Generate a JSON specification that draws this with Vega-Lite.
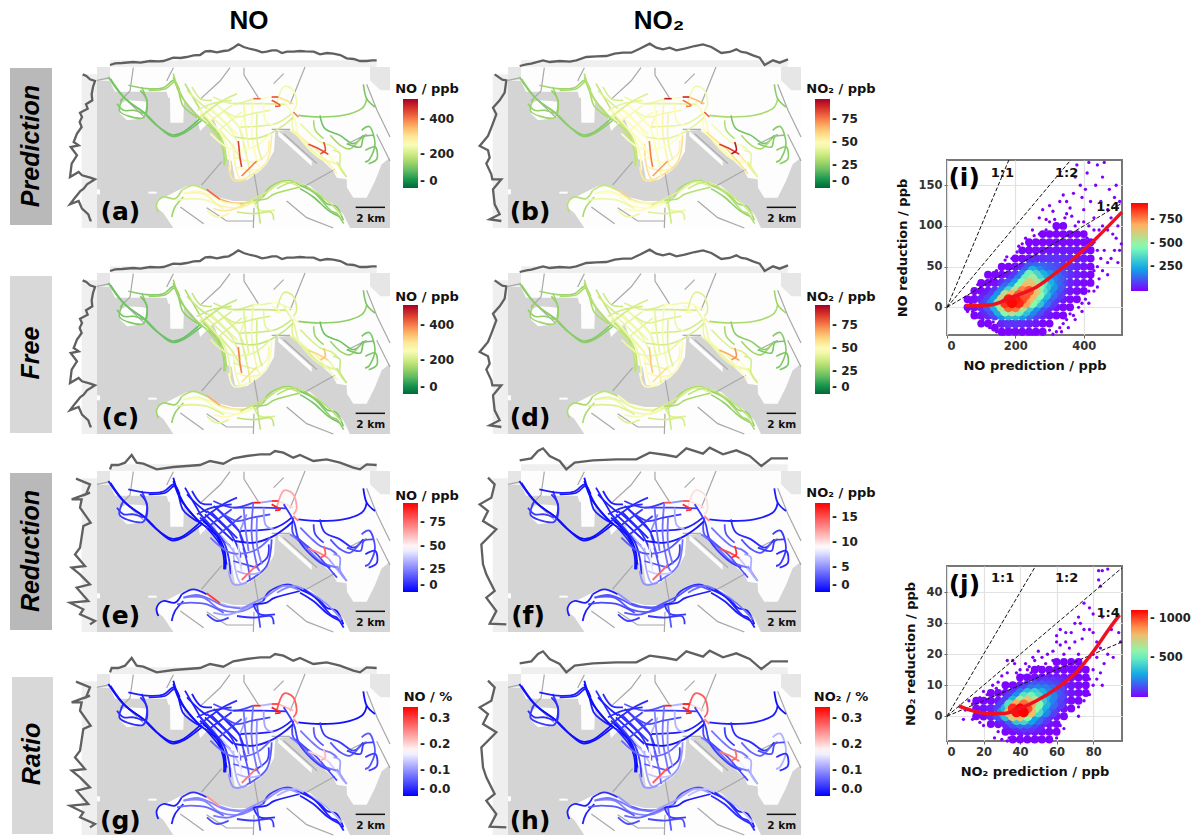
{"$schema":"https://vega.github.io/schema/vega-lite/v6.json","padding":{"left":10,"top":8,"right":0,"bottom":0},"background":"white",
"config":{"view":{"stroke":null},"font":"DejaVu Sans","legend":{"orient":"none","labelFont":"DejaVu Sans","labelFontSize":12,"labelFontWeight":"bold","labelColor":"#222","gradientLength":89,"gradientThickness":15,"gradientStrokeWidth":0,"labelOffset":2,"padding":0},"axis":{"labelFont":"DejaVu Sans","titleFont":"DejaVu Sans","labelFontWeight":"bold","titleFontWeight":"bold","labelFontSize":11.5,"titleFontSize":13,"titlePadding":8,"labelColor":"#333","titleColor":"#111","gridColor":"#e2e2e2","gridWidth":1.2,"domain":false,"tickColor":"#666","tickSize":3}},
"datasets":{
"frame":[{"x":0,"x2":879,"y":0,"y2":483}],
"bands":[{"x":39,"x2":839,"y":-20,"y2":0},{"x":-46,"x2":0,"y":22,"y2":483}],
"land":[{"k":"n","x":0,"y":0,"y2":40},{"k":"n","x":39,"y":0,"y2":42},{"k":"n","x":54,"y":0,"y2":74},{"k":"n","x":209,"y":0,"y2":74},{"k":"n","x":214,"y":0,"y2":92},{"k":"n","x":219,"y":0,"y2":92},{"k":"n","x":220,"y":0,"y2":167},{"k":"n","x":259,"y":0,"y2":167},{"k":"n","x":261,"y":0,"y2":102},{"k":"n","x":284,"y":0,"y2":122},{"k":"n","x":299,"y":0,"y2":147},{"k":"n","x":309,"y":0,"y2":192},{"k":"n","x":324,"y":0,"y2":177},{"k":"n","x":349,"y":0,"y2":152},{"k":"n","x":364,"y":0,"y2":192},{"k":"n","x":377,"y":0,"y2":242},{"k":"n","x":381,"y":0,"y2":272},{"k":"n","x":404,"y":0,"y2":282},{"k":"n","x":414,"y":0,"y2":337},{"k":"n","x":449,"y":0,"y2":340},{"k":"n","x":489,"y":0,"y2":312},{"k":"n","x":509,"y":0,"y2":292},{"k":"n","x":531,"y":0,"y2":252},{"k":"n","x":535,"y":0,"y2":192},{"k":"n","x":580,"y":0,"y2":188},{"k":"n","x":709,"y":0,"y2":312},{"k":"n","x":719,"y":0,"y2":332},{"k":"n","x":749,"y":0,"y2":337},{"k":"n","x":750,"y":0,"y2":362},{"k":"n","x":769,"y":0,"y2":392},{"k":"n","x":809,"y":0,"y2":392},{"k":"n","x":834,"y":0,"y2":342},{"k":"n","x":854,"y":0,"y2":292},{"k":"n","x":879,"y":0,"y2":272},
{"k":"ty","x":69,"y":110,"y2":140},{"k":"ty","x":90,"y":100,"y2":160},{"k":"ty","x":130,"y":102,"y2":155},{"k":"ty","x":149,"y":105,"y2":150},
{"k":"rw","x":544,"y":192,"y2":207},{"k":"rw","x":644,"y":282,"y2":297},
{"k":"hk","x":179,"y":402,"y2":422},{"k":"hk","x":199,"y":392,"y2":438},{"k":"hk","x":229,"y":377,"y2":483},{"k":"hk","x":269,"y":357,"y2":483},{"k":"hk","x":309,"y":357,"y2":483},{"k":"hk","x":349,"y":387,"y2":483},{"k":"hk","x":409,"y":402,"y2":483},{"k":"hk","x":449,"y":402,"y2":483},{"k":"hk","x":479,"y":412,"y2":483},{"k":"hk","x":509,"y":382,"y2":483},{"k":"hk","x":539,"y":347,"y2":483},{"k":"hk","x":569,"y":337,"y2":483},{"k":"hk","x":609,"y":347,"y2":483},{"k":"hk","x":639,"y":357,"y2":483},{"k":"hk","x":669,"y":382,"y2":483},{"k":"hk","x":709,"y":412,"y2":483},{"k":"hk","x":739,"y":442,"y2":483},{"k":"hk","x":759,"y":483,"y2":483},
{"k":"i1","x":154,"y":374,"y2":380},{"k":"i1","x":179,"y":374,"y2":380},{"k":"i2","x":0,"y":367,"y2":382},{"k":"i2","x":9,"y":367,"y2":382}],
"pale":[{"k":"a","x":0,"y":0,"y2":40},{"k":"a","x":39,"y":0,"y2":40},{"k":"b","x":819,"y":0,"y2":40},{"k":"b","x":850,"y":0,"y2":70},{"k":"b","x":879,"y":0,"y2":70}],
"thin":[{"k":"d1","c":"d","i":0,"x":79,"y":90},{"k":"d1","c":"d","i":1,"x":144,"y":152},{"k":"d2","c":"d","i":0,"x":0,"y":40},{"k":"d2","c":"d","i":1,"x":39,"y":32},{"k":"d3","c":"m","i":0,"x":399,"y":2},{"k":"d3","c":"m","i":1,"x":369,"y":42},{"k":"d3","c":"m","i":2,"x":309,"y":97},{"k":"d4","c":"d","i":0,"x":441,"y":2},{"k":"d4","c":"d","i":1,"x":441,"y":24},{"k":"d4","c":"d","i":2,"x":484,"y":92},{"k":"d5","c":"d","i":0,"x":624,"y":0},{"k":"d5","c":"d","i":1,"x":579,"y":112},{"k":"d6","c":"d","i":0,"x":524,"y":187},{"k":"d6","c":"d","i":1,"x":579,"y":187},{"k":"d7","c":"d","i":0,"x":374,"y":284},{"k":"d7","c":"d","i":1,"x":314,"y":354},{"k":"d8","c":"d","i":0,"x":471,"y":317},{"k":"d8","c":"d","i":1,"x":484,"y":392},{"k":"d9","c":"d","i":0,"x":714,"y":307},{"k":"d9","c":"d","i":1,"x":624,"y":357},{"k":"d10","c":"d","i":0,"x":471,"y":422},{"k":"d10","c":"d","i":1,"x":469,"y":483},{"k":"d11","c":"d","i":0,"x":749,"y":232},{"k":"d11","c":"d","i":1,"x":809,"y":202},{"k":"l1","c":"l","i":0,"x":839,"y":202},{"k":"l1","c":"l","i":1,"x":879,"y":282},{"k":"l2","c":"l","i":0,"x":109,"y":2},{"k":"l2","c":"l","i":1,"x":99,"y":72},{"k":"l2","c":"l","i":2,"x":69,"y":102},{"k":"l3","c":"l","i":0,"x":329,"y":422},{"k":"l3","c":"l","i":1,"x":389,"y":462},{"k":"l3","c":"l","i":2,"x":469,"y":462},{"k":"l4","c":"l","i":0,"x":569,"y":402},{"k":"l4","c":"l","i":1,"x":629,"y":452},{"k":"l4","c":"l","i":2,"x":709,"y":483},{"k":"l5","c":"l","i":0,"x":229,"y":2},{"k":"l5","c":"l","i":1,"x":209,"y":42},{"k":"l6","c":"l","i":0,"x":809,"y":52},{"k":"l6","c":"l","i":1,"x":840,"y":130},{"k":"l6","c":"l","i":2,"x":879,"y":210},{"k":"l7","c":"l","i":0,"x":530,"y":50},{"k":"l7","c":"l","i":1,"x":560,"y":20},{"k":"l8","c":"l","i":0,"x":250,"y":420},{"k":"l8","c":"l","i":1,"x":320,"y":470},{"k":"l9","c":"l","i":0,"x":560,"y":200},{"k":"l9","c":"l","i":1,"x":660,"y":290}],
"prof":[{"p":"ac","k":"t","i":0,"x":39,"y":-6},{"p":"ac","k":"t","i":1,"x":54,"y":-11},{"p":"ac","k":"t","i":2,"x":75,"y":-12},{"p":"ac","k":"t","i":3,"x":109,"y":-15},{"p":"ac","k":"t","i":4,"x":130,"y":-13},{"p":"ac","k":"t","i":5,"x":159,"y":-18},{"p":"ac","k":"t","i":6,"x":185,"y":-17},{"p":"ac","k":"t","i":7,"x":199,"y":-18},{"p":"ac","k":"t","i":8,"x":229,"y":-28},{"p":"ac","k":"t","i":9,"x":250,"y":-27},{"p":"ac","k":"t","i":10,"x":269,"y":-30},{"p":"ac","k":"t","i":11,"x":290,"y":-35},{"p":"ac","k":"t","i":12,"x":309,"y":-36},{"p":"ac","k":"t","i":13,"x":325,"y":-47},{"p":"ac","k":"t","i":14,"x":340,"y":-48},{"p":"ac","k":"t","i":15,"x":360,"y":-44},{"p":"ac","k":"t","i":16,"x":379,"y":-48},{"p":"ac","k":"t","i":17,"x":395,"y":-50},{"p":"ac","k":"t","i":18,"x":409,"y":-58},{"p":"ac","k":"t","i":19,"x":424,"y":-68},{"p":"ac","k":"t","i":20,"x":440,"y":-60},{"p":"ac","k":"t","i":21,"x":460,"y":-54},{"p":"ac","k":"t","i":22,"x":479,"y":-50},{"p":"ac","k":"t","i":23,"x":495,"y":-44},{"p":"ac","k":"t","i":24,"x":509,"y":-46},{"p":"ac","k":"t","i":25,"x":525,"y":-50},{"p":"ac","k":"t","i":26,"x":539,"y":-50},{"p":"ac","k":"t","i":27,"x":555,"y":-42},{"p":"ac","k":"t","i":28,"x":570,"y":-46},{"p":"ac","k":"t","i":29,"x":590,"y":-46},{"p":"ac","k":"t","i":30,"x":609,"y":-48},{"p":"ac","k":"t","i":31,"x":625,"y":-47},{"p":"ac","k":"t","i":32,"x":650,"y":-46},{"p":"ac","k":"t","i":33,"x":669,"y":-38},{"p":"ac","k":"t","i":34,"x":690,"y":-42},{"p":"ac","k":"t","i":35,"x":709,"y":-40},{"p":"ac","k":"t","i":36,"x":730,"y":-36},{"p":"ac","k":"t","i":37,"x":749,"y":-26},{"p":"ac","k":"t","i":38,"x":770,"y":-24},{"p":"ac","k":"t","i":39,"x":789,"y":-18},{"p":"ac","k":"t","i":40,"x":809,"y":-18},{"p":"ac","k":"t","i":41,"x":825,"y":-20},{"p":"ac","k":"t","i":42,"x":839,"y":-20},
{"p":"ac","k":"l","i":0,"x":-43,"y":22},{"p":"ac","k":"l","i":1,"x":-32,"y":27},{"p":"ac","k":"l","i":2,"x":-21,"y":37},{"p":"ac","k":"l","i":3,"x":-6,"y":42},{"p":"ac","k":"l","i":4,"x":-12,"y":60},{"p":"ac","k":"l","i":5,"x":-16,"y":82},{"p":"ac","k":"l","i":6,"x":-14,"y":100},{"p":"ac","k":"l","i":7,"x":-33,"y":112},{"p":"ac","k":"l","i":8,"x":-28,"y":125},{"p":"ac","k":"l","i":9,"x":-51,"y":137},{"p":"ac","k":"l","i":10,"x":-45,"y":150},{"p":"ac","k":"l","i":11,"x":-52,"y":165},{"p":"ac","k":"l","i":12,"x":-46,"y":180},{"p":"ac","k":"l","i":13,"x":-60,"y":200},{"p":"ac","k":"l","i":14,"x":-70,"y":225},{"p":"ac","k":"l","i":15,"x":-55,"y":235},{"p":"ac","k":"l","i":16,"x":-79,"y":240},{"p":"ac","k":"l","i":17,"x":-60,"y":265},{"p":"ac","k":"l","i":18,"x":-76,"y":290},{"p":"ac","k":"l","i":19,"x":-81,"y":330},{"p":"ac","k":"l","i":20,"x":-55,"y":315},{"p":"ac","k":"l","i":21,"x":-45,"y":325},{"p":"ac","k":"l","i":22,"x":-20,"y":332},{"p":"ac","k":"l","i":23,"x":-6,"y":337},{"p":"ac","k":"l","i":24,"x":-30,"y":352},{"p":"ac","k":"l","i":25,"x":-40,"y":365},{"p":"ac","k":"l","i":26,"x":-50,"y":372},{"p":"ac","k":"l","i":27,"x":-66,"y":392},{"p":"ac","k":"l","i":28,"x":-81,"y":412},{"p":"ac","k":"l","i":29,"x":-55,"y":402},{"p":"ac","k":"l","i":30,"x":-45,"y":425},{"p":"ac","k":"l","i":31,"x":-26,"y":442},{"p":"ac","k":"l","i":32,"x":-20,"y":460},{"p":"ac","k":"l","i":33,"x":-16,"y":460},
{"p":"bd","k":"t","i":0,"x":35,"y":-3},{"p":"bd","k":"t","i":1,"x":55,"y":-8},{"p":"bd","k":"t","i":2,"x":70,"y":-10},{"p":"bd","k":"t","i":3,"x":105,"y":-20},{"p":"bd","k":"t","i":4,"x":125,"y":-15},{"p":"bd","k":"t","i":5,"x":155,"y":-18},{"p":"bd","k":"t","i":6,"x":185,"y":-16},{"p":"bd","k":"t","i":7,"x":205,"y":-20},{"p":"bd","k":"t","i":8,"x":235,"y":-30},{"p":"bd","k":"t","i":9,"x":265,"y":-32},{"p":"bd","k":"t","i":10,"x":295,"y":-33},{"p":"bd","k":"t","i":11,"x":320,"y":-40},{"p":"bd","k":"t","i":12,"x":345,"y":-43},{"p":"bd","k":"t","i":13,"x":370,"y":-43},{"p":"bd","k":"t","i":14,"x":395,"y":-55},{"p":"bd","k":"t","i":15,"x":425,"y":-70},{"p":"bd","k":"t","i":16,"x":445,"y":-58},{"p":"bd","k":"t","i":17,"x":465,"y":-53},{"p":"bd","k":"t","i":18,"x":485,"y":-58},{"p":"bd","k":"t","i":19,"x":505,"y":-50},{"p":"bd","k":"t","i":20,"x":530,"y":-55},{"p":"bd","k":"t","i":21,"x":560,"y":-63},{"p":"bd","k":"t","i":22,"x":585,"y":-68},{"p":"bd","k":"t","i":23,"x":610,"y":-60},{"p":"bd","k":"t","i":24,"x":640,"y":-42},{"p":"bd","k":"t","i":25,"x":665,"y":-45},{"p":"bd","k":"t","i":26,"x":685,"y":-53},{"p":"bd","k":"t","i":27,"x":700,"y":-45},{"p":"bd","k":"t","i":28,"x":715,"y":-43},{"p":"bd","k":"t","i":29,"x":735,"y":-35},{"p":"bd","k":"t","i":30,"x":755,"y":-28},{"p":"bd","k":"t","i":31,"x":770,"y":-6},{"p":"bd","k":"t","i":32,"x":795,"y":-20},{"p":"bd","k":"t","i":33,"x":815,"y":-13},{"p":"bd","k":"t","i":34,"x":840,"y":-23},
{"p":"bd","k":"l","i":0,"x":-40,"y":22},{"p":"bd","k":"l","i":1,"x":-17,"y":38},{"p":"bd","k":"l","i":2,"x":-5,"y":40},{"p":"bd","k":"l","i":3,"x":-10,"y":77},{"p":"bd","k":"l","i":4,"x":-25,"y":100},{"p":"bd","k":"l","i":5,"x":-45,"y":122},{"p":"bd","k":"l","i":6,"x":-35,"y":142},{"p":"bd","k":"l","i":7,"x":-50,"y":182},{"p":"bd","k":"l","i":8,"x":-60,"y":207},{"p":"bd","k":"l","i":9,"x":-85,"y":237},{"p":"bd","k":"l","i":10,"x":-60,"y":250},{"p":"bd","k":"l","i":11,"x":-55,"y":272},{"p":"bd","k":"l","i":12,"x":-65,"y":290},{"p":"bd","k":"l","i":13,"x":-50,"y":322},{"p":"bd","k":"l","i":14,"x":-47,"y":337},{"p":"bd","k":"l","i":15,"x":-20,"y":337},{"p":"bd","k":"l","i":16,"x":-45,"y":367},{"p":"bd","k":"l","i":17,"x":-40,"y":412},{"p":"bd","k":"l","i":18,"x":-25,"y":442},{"p":"bd","k":"l","i":19,"x":-55,"y":457},{"p":"bd","k":"l","i":20,"x":-20,"y":462},
{"p":"eg","k":"t","i":0,"x":39,"y":-5},{"p":"eg","k":"t","i":1,"x":44,"y":-18},{"p":"eg","k":"t","i":2,"x":64,"y":-18},{"p":"eg","k":"t","i":3,"x":84,"y":-25},{"p":"eg","k":"t","i":4,"x":104,"y":-48},{"p":"eg","k":"t","i":5,"x":119,"y":-25},{"p":"eg","k":"t","i":6,"x":139,"y":-22},{"p":"eg","k":"t","i":7,"x":179,"y":-5},{"p":"eg","k":"t","i":8,"x":229,"y":-12},{"p":"eg","k":"t","i":9,"x":269,"y":-15},{"p":"eg","k":"t","i":10,"x":309,"y":-18},{"p":"eg","k":"t","i":11,"x":339,"y":-30},{"p":"eg","k":"t","i":12,"x":379,"y":-22},{"p":"eg","k":"t","i":13,"x":409,"y":-38},{"p":"eg","k":"t","i":14,"x":449,"y":-45},{"p":"eg","k":"t","i":15,"x":489,"y":-50},{"p":"eg","k":"t","i":16,"x":519,"y":-50},{"p":"eg","k":"t","i":17,"x":534,"y":-60},{"p":"eg","k":"t","i":18,"x":559,"y":-55},{"p":"eg","k":"t","i":19,"x":589,"y":-40},{"p":"eg","k":"t","i":20,"x":609,"y":-48},{"p":"eg","k":"t","i":21,"x":649,"y":-30},{"p":"eg","k":"t","i":22,"x":689,"y":-35},{"p":"eg","k":"t","i":23,"x":729,"y":-25},{"p":"eg","k":"t","i":24,"x":769,"y":-10},{"p":"eg","k":"t","i":25,"x":789,"y":-5},{"p":"eg","k":"t","i":26,"x":809,"y":-20},{"p":"eg","k":"t","i":27,"x":839,"y":-18},
{"p":"eg","k":"l","i":0,"x":-63,"y":23},{"p":"eg","k":"l","i":1,"x":-21,"y":40},{"p":"eg","k":"l","i":2,"x":-33,"y":70},{"p":"eg","k":"l","i":3,"x":-21,"y":65},{"p":"eg","k":"l","i":4,"x":-76,"y":85},{"p":"eg","k":"l","i":5,"x":-46,"y":85},{"p":"eg","k":"l","i":6,"x":-51,"y":110},{"p":"eg","k":"l","i":7,"x":-19,"y":155},{"p":"eg","k":"l","i":8,"x":-41,"y":165},{"p":"eg","k":"l","i":9,"x":-51,"y":230},{"p":"eg","k":"l","i":10,"x":-66,"y":250},{"p":"eg","k":"l","i":11,"x":-36,"y":285},{"p":"eg","k":"l","i":12,"x":-76,"y":290},{"p":"eg","k":"l","i":13,"x":-51,"y":310},{"p":"eg","k":"l","i":14,"x":-21,"y":340},{"p":"eg","k":"l","i":15,"x":-61,"y":350},{"p":"eg","k":"l","i":16,"x":-26,"y":390},{"p":"eg","k":"l","i":17,"x":-81,"y":395},{"p":"eg","k":"l","i":18,"x":-41,"y":415},{"p":"eg","k":"l","i":19,"x":-51,"y":430},{"p":"eg","k":"l","i":20,"x":-6,"y":450},{"p":"eg","k":"l","i":21,"x":-21,"y":460},
{"p":"fh","k":"t","i":0,"x":35,"y":-32},{"p":"fh","k":"t","i":1,"x":70,"y":-38},{"p":"fh","k":"t","i":2,"x":90,"y":-60},{"p":"fh","k":"t","i":3,"x":105,"y":-68},{"p":"fh","k":"t","i":4,"x":125,"y":-45},{"p":"fh","k":"t","i":5,"x":155,"y":-30},{"p":"fh","k":"t","i":6,"x":175,"y":-5},{"p":"fh","k":"t","i":7,"x":200,"y":-25},{"p":"fh","k":"t","i":8,"x":255,"y":-32},{"p":"fh","k":"t","i":9,"x":325,"y":-35},{"p":"fh","k":"t","i":10,"x":385,"y":-35},{"p":"fh","k":"t","i":11,"x":425,"y":-55},{"p":"fh","k":"t","i":12,"x":475,"y":-48},{"p":"fh","k":"t","i":13,"x":505,"y":-42},{"p":"fh","k":"t","i":14,"x":535,"y":-68},{"p":"fh","k":"t","i":15,"x":585,"y":-52},{"p":"fh","k":"t","i":16,"x":605,"y":-70},{"p":"fh","k":"t","i":17,"x":645,"y":-50},{"p":"fh","k":"t","i":18,"x":685,"y":-62},{"p":"fh","k":"t","i":19,"x":725,"y":-45},{"p":"fh","k":"t","i":20,"x":760,"y":-15},{"p":"fh","k":"t","i":21,"x":790,"y":-38},{"p":"fh","k":"t","i":22,"x":840,"y":-38},
{"p":"fh","k":"l","i":0,"x":-60,"y":20},{"p":"fh","k":"l","i":1,"x":-40,"y":40},{"p":"fh","k":"l","i":2,"x":-50,"y":80},{"p":"fh","k":"l","i":3,"x":-85,"y":100},{"p":"fh","k":"l","i":4,"x":-60,"y":120},{"p":"fh","k":"l","i":5,"x":-75,"y":150},{"p":"fh","k":"l","i":6,"x":-35,"y":175},{"p":"fh","k":"l","i":7,"x":-80,"y":220},{"p":"fh","k":"l","i":8,"x":-75,"y":280},{"p":"fh","k":"l","i":9,"x":-65,"y":310},{"p":"fh","k":"l","i":10,"x":-40,"y":360},{"p":"fh","k":"l","i":11,"x":-65,"y":380},{"p":"fh","k":"l","i":12,"x":-35,"y":420},{"p":"fh","k":"l","i":13,"x":-55,"y":458},{"p":"fh","k":"l","i":14,"x":-5,"y":460}],
"seg":[
{"s":1,"a":125,"b":26,"c":115,"d":26,"e":6,"f":1,"g":0.01,"h":0.02},{"s":2,"a":105,"b":24,"c":105,"d":24,"e":3,"f":0.5,"g":0.01,"h":0.01},{"s":3,"a":130,"b":28,"c":125,"d":28,"e":12,"f":2,"g":0.03,"h":0.04},{"s":4,"a":140,"b":28,"c":130,"d":28,"e":6,"f":1,"g":0.02,"h":0.02},{"s":5,"a":145,"b":30,"c":135,"d":30,"e":5,"f":1,"g":0.02,"h":0.02},{"s":6,"a":150,"b":30,"c":140,"d":30,"e":3,"f":0.5,"g":0.01,"h":0.01},{"s":7,"a":170,"b":34,"c":160,"d":34,"e":5,"f":1,"g":0.02,"h":0.03},{"s":8,"a":155,"b":32,"c":145,"d":32,"e":2,"f":0.5,"g":0.01,"h":0.01},{"s":9,"a":170,"b":34,"c":160,"d":36,"e":4,"f":1,"g":0.01,"h":0.02},
{"s":10,"a":240,"b":48,"c":215,"d":44,"e":6,"f":1,"g":0.02,"h":0.02},{"s":11,"a":250,"b":50,"c":225,"d":45,"e":7,"f":1,"g":0.02,"h":0.03},{"s":12,"a":245,"b":50,"c":220,"d":45,"e":7,"f":1,"g":0.02,"h":0.03},{"s":13,"a":240,"b":48,"c":215,"d":44,"e":6,"f":1,"g":0.02,"h":0.02},{"s":14,"a":230,"b":46,"c":205,"d":42,"e":12,"f":2,"g":0.03,"h":0.04},{"s":15,"a":235,"b":46,"c":210,"d":42,"e":14,"f":2,"g":0.05,"h":0.05},
{"s":16,"a":220,"b":44,"c":200,"d":40,"e":12,"f":2,"g":0.05,"h":0.06},{"s":17,"a":420,"b":92,"c":240,"d":50,"e":92,"f":15,"g":0.32,"h":0.32},{"s":18,"a":260,"b":50,"c":225,"d":45,"e":30,"f":5,"g":0.12,"h":0.12},{"s":19,"a":440,"b":90,"c":260,"d":52,"e":88,"f":15,"g":0.3,"h":0.33},{"s":20,"a":310,"b":65,"c":240,"d":50,"e":55,"f":10,"g":0.22,"h":0.2},{"s":21,"a":240,"b":45,"c":205,"d":40,"e":65,"f":10,"g":0.28,"h":0.28},{"s":22,"a":215,"b":42,"c":190,"d":38,"e":10,"f":2,"g":0.03,"h":0.04},{"s":23,"a":430,"b":75,"c":250,"d":50,"e":90,"f":16,"g":0.32,"h":0.32},{"s":24,"a":210,"b":42,"c":190,"d":38,"e":5,"f":1,"g":0.02,"h":0.02},{"s":25,"a":400,"b":80,"c":270,"d":55,"e":72,"f":13,"g":0.24,"h":0.25},
{"s":26,"a":140,"b":30,"c":135,"d":30,"e":5,"f":1,"g":0.01,"h":0.02},{"s":27,"a":120,"b":25,"c":120,"d":28,"e":3,"f":1,"g":0.01,"h":0.01},{"s":28,"a":240,"b":48,"c":220,"d":44,"e":14,"f":3,"g":0.05,"h":0.05},{"s":29,"a":440,"b":85,"c":320,"d":68,"e":70,"f":15,"g":0.2,"h":0.26},{"s":30,"a":260,"b":55,"c":230,"d":48,"e":32,"f":7,"g":0.14,"h":0.16},{"s":31,"a":240,"b":48,"c":215,"d":44,"e":22,"f":4,"g":0.08,"h":0.08},{"s":32,"a":200,"b":40,"c":190,"d":40,"e":26,"f":5,"g":0.1,"h":0.1},{"s":33,"a":110,"b":22,"c":110,"d":25,"e":8,"f":1.5,"g":0.04,"h":0.03},{"s":34,"a":120,"b":24,"c":120,"d":24,"e":14,"f":2,"g":0.06,"h":0.12},{"s":35,"a":205,"b":42,"c":190,"d":38,"e":28,"f":6,"g":0.11,"h":0.12},
{"s":36,"a":280,"b":58,"c":240,"d":50,"e":35,"f":6,"g":0.12,"h":0.11},{"s":37,"a":450,"b":75,"c":400,"d":62,"e":40,"f":8,"g":0.16,"h":0.18},{"s":38,"a":290,"b":58,"c":250,"d":50,"e":15,"f":4,"g":0.06,"h":0.1},{"s":39,"a":265,"b":52,"c":235,"d":46,"e":20,"f":4,"g":0.08,"h":0.08},{"s":40,"a":260,"b":52,"c":235,"d":48,"e":28,"f":5,"g":0.11,"h":0.12},{"s":41,"a":400,"b":70,"c":310,"d":58,"e":75,"f":14,"g":0.26,"h":0.28},{"s":42,"a":240,"b":48,"c":220,"d":44,"e":14,"f":3,"g":0.06,"h":0.06},{"s":43,"a":230,"b":46,"c":210,"d":42,"e":16,"f":3,"g":0.06,"h":0.07},{"s":44,"a":230,"b":48,"c":210,"d":44,"e":34,"f":6,"g":0.13,"h":0.13},{"s":45,"a":230,"b":48,"c":210,"d":44,"e":12,"f":3,"g":0.05,"h":0.06},
{"s":46,"a":165,"b":32,"c":150,"d":30,"e":4,"f":1,"g":0.02,"h":0.02},{"s":47,"a":180,"b":35,"c":165,"d":33,"e":6,"f":1,"g":0.03,"h":0.03},{"s":48,"a":420,"b":60,"c":360,"d":48,"e":85,"f":5,"g":0.24,"h":0.1},{"s":49,"a":360,"b":55,"c":320,"d":48,"e":35,"f":3,"g":0.1,"h":0.06},{"s":50,"a":190,"b":36,"c":170,"d":35,"e":18,"f":3,"g":0.07,"h":0.08},{"s":51,"a":150,"b":30,"c":145,"d":30,"e":8,"f":1.5,"g":0.04,"h":0.05},{"s":52,"a":120,"b":28,"c":115,"d":26,"e":4,"f":1,"g":0.02,"h":0.02},{"s":53,"a":145,"b":30,"c":140,"d":30,"e":6,"f":1,"g":0.02,"h":0.02},{"s":54,"a":280,"b":48,"c":250,"d":44,"e":22,"f":3,"g":0.09,"h":0.09},{"s":55,"a":300,"b":50,"c":270,"d":46,"e":30,"f":3,"g":0.08,"h":0.07},{"s":56,"a":220,"b":44,"c":205,"d":40,"e":10,"f":2,"g":0.03,"h":0.04},{"s":57,"a":115,"b":26,"c":115,"d":26,"e":5,"f":1,"g":0.02,"h":0.03},{"s":58,"a":160,"b":32,"c":150,"d":30,"e":5,"f":1,"g":0.02,"h":0.02},
{"s":59,"a":115,"b":25,"c":110,"d":25,"e":3,"f":0.5,"g":0.01,"h":0.01},{"s":60,"a":150,"b":30,"c":140,"d":30,"e":4,"f":0.8,"g":0.02,"h":0.02},{"s":61,"a":160,"b":32,"c":150,"d":32,"e":2,"f":0.5,"g":0.01,"h":0.01},{"s":62,"a":175,"b":35,"c":160,"d":34,"e":2,"f":0.5,"g":0.01,"h":0.01},{"s":63,"a":240,"b":48,"c":215,"d":44,"e":8,"f":1.5,"g":0.03,"h":0.03},{"s":64,"a":240,"b":48,"c":215,"d":44,"e":10,"f":1.5,"g":0.03,"h":0.04},{"s":65,"a":250,"b":50,"c":225,"d":45,"e":9,"f":1.5,"g":0.03,"h":0.04},{"s":66,"a":210,"b":42,"c":190,"d":38,"e":8,"f":1.5,"g":0.03,"h":0.03},{"s":67,"a":200,"b":40,"c":185,"d":38,"e":8,"f":1.5,"g":0.03,"h":0.03},{"s":68,"a":225,"b":45,"c":205,"d":40,"e":15,"f":2,"g":0.05,"h":0.05},{"s":69,"a":200,"b":42,"c":185,"d":38,"e":4,"f":0.8,"g":0.02,"h":0.01},{"s":70,"a":250,"b":48,"c":225,"d":44,"e":20,"f":3,"g":0.07,"h":0.07},{"s":71,"a":240,"b":48,"c":215,"d":42,"e":22,"f":4,"g":0.08,"h":0.09},{"s":72,"a":250,"b":50,"c":225,"d":44,"e":30,"f":6,"g":0.11,"h":0.12},{"s":73,"a":300,"b":55,"c":255,"d":48,"e":30,"f":5,"g":0.1,"h":0.1},{"s":74,"a":280,"b":52,"c":240,"d":46,"e":10,"f":2,"g":0.04,"h":0.04},{"s":75,"a":270,"b":52,"c":240,"d":46,"e":32,"f":7,"g":0.12,"h":0.13},
{"s":76,"a":250,"b":50,"c":225,"d":44,"e":10,"f":2,"g":0.04,"h":0.04},{"s":77,"a":280,"b":58,"c":240,"d":50,"e":14,"f":3,"g":0.05,"h":0.05},{"s":78,"a":230,"b":46,"c":205,"d":40,"e":20,"f":4,"g":0.08,"h":0.08},{"s":79,"a":160,"b":32,"c":150,"d":30,"e":12,"f":3,"g":0.06,"h":0.04},{"s":80,"a":150,"b":30,"c":145,"d":28,"e":16,"f":3,"g":0.06,"h":0.07},{"s":81,"a":115,"b":24,"c":115,"d":22,"e":14,"f":2,"g":0.04,"h":0.05},{"s":82,"a":120,"b":25,"c":120,"d":22,"e":8,"f":1.5,"g":0.04,"h":0.03},{"s":83,"a":270,"b":47,"c":240,"d":42,"e":22,"f":3,"g":0.09,"h":0.08},{"s":84,"a":240,"b":44,"c":215,"d":40,"e":18,"f":2.5,"g":0.07,"h":0.06},{"s":85,"a":200,"b":40,"c":185,"d":38,"e":26,"f":3,"g":0.1,"h":0.11},{"s":86,"a":180,"b":36,"c":175,"d":36,"e":14,"f":3,"g":0.05,"h":0.06},{"s":87,"a":190,"b":40,"c":180,"d":38,"e":10,"f":2,"g":0.04,"h":0.05},{"s":88,"a":180,"b":36,"c":170,"d":34,"e":26,"f":4,"g":0.12,"h":0.13},{"s":89,"a":240,"b":44,"c":220,"d":40,"e":12,"f":2,"g":0.05,"h":0.05},{"s":90,"a":140,"b":32,"c":135,"d":30,"e":6,"f":1,"g":0.02,"h":0.03},{"s":92,"a":125,"b":26,"c":120,"d":26,"e":10,"f":2,"g":0.03,"h":0.03},{"s":93,"a":120,"b":26,"c":115,"d":26,"e":8,"f":1.5,"g":0.03,"h":0.03},{"s":95,"a":210,"b":40,"c":190,"d":38,"e":5,"f":1,"g":0.02,"h":0.02},{"s":96,"a":200,"b":38,"c":180,"d":36,"e":7,"f":1,"g":0.02,"h":0.03},{"s":97,"a":220,"b":44,"c":205,"d":40,"e":24,"f":4,"g":0.1,"h":0.1},{"s":99,"a":440,"b":92,"c":340,"d":72,"e":78,"f":16,"g":0.22,"h":0.27}],
"roads":[{"s":1,"i":0,"x":34,"y":30},{"s":1,"i":1,"x":79,"y":90},{"s":1,"i":2,"x":139,"y":135},
{"s":2,"i":0,"x":139,"y":135},{"s":2,"i":1,"x":179,"y":175},{"s":2,"i":2,"x":224,"y":203},{"s":2,"i":3,"x":259,"y":195},{"s":2,"i":4,"x":309,"y":155},
{"s":3,"i":0,"x":79,"y":90},{"s":3,"i":1,"x":67,"y":130},{"s":3,"i":2,"x":94,"y":147},{"s":3,"i":3,"x":139,"y":152},{"s":3,"i":4,"x":151,"y":110},{"s":3,"i":5,"x":134,"y":60},
{"s":4,"i":0,"x":94,"y":55},{"s":4,"i":1,"x":149,"y":65},{"s":4,"i":2,"x":199,"y":62},{"s":4,"i":3,"x":229,"y":40},{"s":4,"i":4,"x":244,"y":65},
{"s":5,"i":0,"x":244,"y":65},{"s":5,"i":1,"x":257,"y":115},{"s":5,"i":2,"x":284,"y":140},{"s":5,"i":3,"x":309,"y":155},
{"s":6,"i":0,"x":229,"y":30},{"s":6,"i":1,"x":254,"y":90},{"s":6,"i":2,"x":309,"y":155},
{"s":7,"i":0,"x":264,"y":50},{"s":7,"i":1,"x":299,"y":110},{"s":7,"i":2,"x":314,"y":135},{"s":7,"i":3,"x":334,"y":160},
{"s":8,"i":0,"x":309,"y":155},{"s":8,"i":1,"x":359,"y":195},{"s":8,"i":2,"x":379,"y":250},{"s":8,"i":3,"x":381,"y":295},
{"s":9,"i":0,"x":324,"y":165},{"s":9,"i":1,"x":369,"y":220},{"s":9,"i":2,"x":389,"y":280},
{"s":10,"i":0,"x":324,"y":130},{"s":10,"i":1,"x":409,"y":210},{"s":11,"i":0,"x":341,"y":122},{"s":11,"i":1,"x":421,"y":202},{"s":12,"i":0,"x":359,"y":112},{"s":12,"i":1,"x":431,"y":185},{"s":13,"i":0,"x":309,"y":140},{"s":13,"i":1,"x":399,"y":225},{"s":14,"i":0,"x":329,"y":170},{"s":14,"i":1,"x":404,"y":115},{"s":15,"i":0,"x":359,"y":195},{"s":15,"i":1,"x":434,"y":135},
{"s":16,"i":0,"x":349,"y":90},{"s":16,"i":1,"x":409,"y":110},{"s":16,"i":2,"x":469,"y":95},
{"s":18,"i":0,"x":491,"y":95},{"s":18,"i":1,"x":524,"y":90},{"s":20,"i":0,"x":544,"y":90},{"s":20,"i":1,"x":589,"y":110},{"s":21,"i":0,"x":539,"y":110},{"s":21,"i":1,"x":559,"y":60},{"s":21,"i":2,"x":589,"y":70},{"s":21,"i":3,"x":599,"y":110},{"s":21,"i":4,"x":589,"y":130},
{"s":22,"i":0,"x":409,"y":110},{"s":22,"i":1,"x":489,"y":110},{"s":22,"i":2,"x":569,"y":112},
{"s":24,"i":0,"x":429,"y":180},{"s":24,"i":1,"x":529,"y":172},{"s":24,"i":2,"x":584,"y":140},
{"s":26,"i":0,"x":604,"y":145},{"s":26,"i":1,"x":669,"y":150},{"s":26,"i":2,"x":739,"y":145},{"s":26,"i":3,"x":794,"y":125},{"s":26,"i":4,"x":809,"y":95},
{"s":27,"i":0,"x":799,"y":52},{"s":27,"i":1,"x":809,"y":95},{"s":27,"i":2,"x":834,"y":120},
{"s":28,"i":0,"x":589,"y":140},{"s":28,"i":1,"x":589,"y":190},{"s":28,"i":2,"x":634,"y":232},
{"s":30,"i":0,"x":694,"y":262},{"s":30,"i":1,"x":740,"y":320},{"s":31,"i":0,"x":579,"y":190},{"s":31,"i":1,"x":619,"y":220},{"s":31,"i":2,"x":669,"y":270},{"s":31,"i":3,"x":719,"y":290},{"s":32,"i":0,"x":719,"y":285},{"s":32,"i":1,"x":749,"y":330},
{"s":33,"i":0,"x":669,"y":145},{"s":33,"i":1,"x":684,"y":185},{"s":33,"i":2,"x":729,"y":205},{"s":33,"i":3,"x":769,"y":230},{"s":33,"i":4,"x":799,"y":205},
{"s":34,"i":0,"x":794,"y":190},{"s":34,"i":1,"x":819,"y":180},{"s":34,"i":2,"x":834,"y":230},{"s":34,"i":3,"x":819,"y":275},{"s":34,"i":4,"x":804,"y":285},
{"s":35,"i":0,"x":709,"y":250},{"s":35,"i":1,"x":729,"y":260},{"s":35,"i":2,"x":729,"y":300},{"s":35,"i":3,"x":749,"y":330},
{"s":36,"i":0,"x":409,"y":230},{"s":36,"i":1,"x":414,"y":290},{"s":36,"i":2,"x":429,"y":335},{"s":36,"i":3,"x":449,"y":332},
{"s":38,"i":0,"x":449,"y":332},{"s":38,"i":1,"x":509,"y":285},{"s":38,"i":2,"x":524,"y":205},
{"s":39,"i":0,"x":469,"y":95},{"s":39,"i":1,"x":464,"y":190},{"s":39,"i":2,"x":479,"y":280},{"s":39,"i":3,"x":489,"y":300},
{"s":40,"i":0,"x":449,"y":130},{"s":40,"i":1,"x":429,"y":180},{"s":42,"i":0,"x":409,"y":270},{"s":42,"i":1,"x":479,"y":290},{"s":43,"i":0,"x":439,"y":230},{"s":43,"i":1,"x":454,"y":290},{"s":43,"i":2,"x":459,"y":330},{"s":44,"i":0,"x":369,"y":190},{"s":44,"i":1,"x":409,"y":240},{"s":44,"i":2,"x":434,"y":285},{"s":45,"i":0,"x":429,"y":190},{"s":45,"i":1,"x":449,"y":260},
{"s":46,"i":0,"x":184,"y":435},{"s":46,"i":1,"x":179,"y":410},{"s":46,"i":2,"x":199,"y":390},{"s":46,"i":3,"x":234,"y":395},{"s":46,"i":4,"x":254,"y":370},
{"s":47,"i":0,"x":254,"y":370},{"s":47,"i":1,"x":289,"y":355},{"s":47,"i":2,"x":329,"y":370},
{"s":49,"i":0,"x":369,"y":397},{"s":49,"i":1,"x":409,"y":408},{"s":49,"i":2,"x":459,"y":408},{"s":50,"i":0,"x":459,"y":408},{"s":50,"i":1,"x":499,"y":390},{"s":51,"i":0,"x":499,"y":390},{"s":51,"i":1,"x":519,"y":360},{"s":51,"i":2,"x":569,"y":340},{"s":51,"i":3,"x":609,"y":355},
{"s":52,"i":0,"x":609,"y":355},{"s":52,"i":1,"x":659,"y":380},{"s":52,"i":2,"x":689,"y":410},{"s":52,"i":3,"x":719,"y":420},{"s":52,"i":4,"x":739,"y":460},
{"s":53,"i":0,"x":224,"y":450},{"s":53,"i":1,"x":234,"y":420},{"s":53,"i":2,"x":259,"y":390},
{"s":54,"i":0,"x":259,"y":380},{"s":54,"i":1,"x":319,"y":380},{"s":54,"i":2,"x":369,"y":415},{"s":54,"i":3,"x":429,"y":422},{"s":54,"i":4,"x":479,"y":400},
{"s":55,"i":0,"x":349,"y":425},{"s":55,"i":1,"x":399,"y":430},{"s":55,"i":2,"x":469,"y":400},
{"s":56,"i":0,"x":469,"y":400},{"s":56,"i":1,"x":489,"y":430},{"s":56,"i":2,"x":534,"y":430},
{"s":57,"i":0,"x":609,"y":365},{"s":57,"i":1,"x":649,"y":390},{"s":57,"i":2,"x":694,"y":430},{"s":57,"i":3,"x":729,"y":450},
{"s":58,"i":0,"x":469,"y":400},{"s":58,"i":1,"x":509,"y":395},{"s":58,"i":2,"x":534,"y":380},{"s":58,"i":3,"x":609,"y":360},
{"s":59,"i":0,"x":40,"y":35},{"s":59,"i":1,"x":85,"y":95},{"s":59,"i":2,"x":145,"y":140},{"s":59,"i":3,"x":185,"y":180},{"s":59,"i":4,"x":224,"y":208},{"s":59,"i":5,"x":262,"y":198},{"s":59,"i":6,"x":314,"y":160},
{"s":60,"i":0,"x":155,"y":70},{"s":60,"i":1,"x":204,"y":66},{"s":60,"i":2,"x":232,"y":45},{"s":60,"i":3,"x":248,"y":70},
{"s":61,"i":0,"x":229,"y":20},{"s":61,"i":1,"x":240,"y":55},{"s":61,"i":2,"x":262,"y":100},{"s":61,"i":3,"x":290,"y":135},{"s":61,"i":4,"x":318,"y":160},
{"s":62,"i":0,"x":318,"y":150},{"s":62,"i":1,"x":360,"y":190},{"s":62,"i":2,"x":384,"y":245},{"s":62,"i":3,"x":385,"y":295},
{"s":63,"i":0,"x":330,"y":120},{"s":63,"i":1,"x":395,"y":180},{"s":63,"i":2,"x":425,"y":235},{"s":63,"i":3,"x":430,"y":260},
{"s":64,"i":0,"x":350,"y":105},{"s":64,"i":1,"x":415,"y":165},{"s":64,"i":2,"x":440,"y":215},
{"s":65,"i":0,"x":305,"y":125},{"s":65,"i":1,"x":375,"y":205},{"s":65,"i":2,"x":395,"y":260},{"s":65,"i":3,"x":400,"y":310},
{"s":66,"i":0,"x":300,"y":130},{"s":66,"i":1,"x":345,"y":110},{"s":66,"i":2,"x":404,"y":100},
{"s":67,"i":0,"x":310,"y":150},{"s":67,"i":1,"x":370,"y":105},{"s":67,"i":2,"x":420,"y":80},
{"s":68,"i":0,"x":380,"y":130},{"s":68,"i":1,"x":420,"y":150},{"s":68,"i":2,"x":465,"y":140},{"s":68,"i":3,"x":520,"y":130},
{"s":69,"i":0,"x":414,"y":210},{"s":69,"i":1,"x":470,"y":215},{"s":69,"i":2,"x":520,"y":200},{"s":69,"i":3,"x":560,"y":175},{"s":69,"i":4,"x":589,"y":150},
{"s":70,"i":0,"x":340,"y":200},{"s":70,"i":1,"x":400,"y":245},{"s":70,"i":2,"x":470,"y":240},{"s":70,"i":3,"x":520,"y":200},
{"s":71,"i":0,"x":440,"y":110},{"s":71,"i":1,"x":445,"y":170},{"s":71,"i":2,"x":455,"y":240},
{"s":72,"i":0,"x":500,"y":110},{"s":72,"i":1,"x":505,"y":160},{"s":72,"i":2,"x":530,"y":175},
{"s":73,"i":0,"x":395,"y":300},{"s":73,"i":1,"x":410,"y":340},{"s":73,"i":2,"x":450,"y":335},
{"s":74,"i":0,"x":470,"y":290},{"s":74,"i":1,"x":510,"y":260},{"s":74,"i":2,"x":515,"y":220},
{"s":75,"i":0,"x":420,"y":300},{"s":75,"i":1,"x":455,"y":310},{"s":75,"i":2,"x":490,"y":305},
{"s":76,"i":0,"x":560,"y":100},{"s":76,"i":1,"x":590,"y":150},{"s":76,"i":2,"x":600,"y":190},{"s":76,"i":3,"x":610,"y":215},{"s":76,"i":4,"x":640,"y":250},{"s":76,"i":5,"x":670,"y":275},{"s":76,"i":6,"x":700,"y":290},
{"s":77,"i":0,"x":595,"y":195},{"s":77,"i":1,"x":630,"y":225},{"s":77,"i":2,"x":660,"y":250},{"s":77,"i":3,"x":690,"y":285},{"s":77,"i":4,"x":720,"y":320},
{"s":78,"i":0,"x":610,"y":170},{"s":78,"i":1,"x":640,"y":200},{"s":78,"i":2,"x":670,"y":225},{"s":78,"i":3,"x":700,"y":235},{"s":78,"i":4,"x":720,"y":250},
{"s":79,"i":0,"x":650,"y":160},{"s":79,"i":1,"x":655,"y":190},{"s":79,"i":2,"x":680,"y":215},
{"s":80,"i":0,"x":700,"y":205},{"s":80,"i":1,"x":730,"y":235},{"s":80,"i":2,"x":760,"y":245},{"s":80,"i":3,"x":790,"y":215},
{"s":81,"i":0,"x":750,"y":230},{"s":81,"i":1,"x":790,"y":240},{"s":81,"i":2,"x":800,"y":210},{"s":81,"i":3,"x":830,"y":205},
{"s":82,"i":0,"x":805,"y":250},{"s":82,"i":1,"x":835,"y":240},{"s":82,"i":2,"x":840,"y":275},{"s":82,"i":3,"x":815,"y":290},
{"s":83,"i":0,"x":260,"y":380},{"s":83,"i":1,"x":300,"y":372},{"s":83,"i":2,"x":340,"y":385},{"s":83,"i":3,"x":380,"y":405},{"s":83,"i":4,"x":430,"y":412},
{"s":84,"i":0,"x":240,"y":400},{"s":84,"i":1,"x":280,"y":395},{"s":84,"i":2,"x":330,"y":400},{"s":84,"i":3,"x":380,"y":425},
{"s":85,"i":0,"x":430,"y":415},{"s":85,"i":1,"x":470,"y":395},{"s":85,"i":2,"x":510,"y":375},{"s":85,"i":3,"x":560,"y":345},{"s":85,"i":4,"x":610,"y":360},
{"s":86,"i":0,"x":480,"y":400},{"s":86,"i":1,"x":490,"y":470},
{"s":87,"i":0,"x":420,"y":435},{"s":87,"i":1,"x":470,"y":440},{"s":87,"i":2,"x":520,"y":435},{"s":87,"i":3,"x":530,"y":460},
{"s":88,"i":0,"x":540,"y":365},{"s":88,"i":1,"x":590,"y":345},{"s":88,"i":2,"x":640,"y":365},{"s":88,"i":3,"x":690,"y":400},{"s":88,"i":4,"x":735,"y":445},
{"s":89,"i":0,"x":330,"y":430},{"s":89,"i":1,"x":360,"y":450},{"s":89,"i":2,"x":395,"y":440},
{"s":90,"i":0,"x":620,"y":355},{"s":90,"i":1,"x":660,"y":385},{"s":90,"i":2,"x":700,"y":430},{"s":90,"i":3,"x":720,"y":440},{"s":90,"i":4,"x":740,"y":470},
{"s":92,"i":0,"x":60,"y":110},{"s":92,"i":1,"x":80,"y":130},{"s":92,"i":2,"x":110,"y":130},{"s":92,"i":3,"x":140,"y":140},
{"s":93,"i":0,"x":130,"y":70},{"s":93,"i":1,"x":150,"y":100},{"s":93,"i":2,"x":145,"y":145},
{"s":95,"i":0,"x":270,"y":70},{"s":95,"i":1,"x":300,"y":100},{"s":95,"i":2,"x":330,"y":125},
{"s":96,"i":0,"x":285,"y":60},{"s":96,"i":1,"x":310,"y":95},{"s":96,"i":2,"x":345,"y":100},
{"s":97,"i":0,"x":480,"y":140},{"s":97,"i":1,"x":480,"y":220},{"s":97,"i":2,"x":495,"y":280},
{"s":17,"i":0,"x":469,"y":95},{"s":17,"i":1,"x":491,"y":95},{"s":19,"i":0,"x":524,"y":90},{"s":19,"i":1,"x":544,"y":90},{"s":23,"i":0,"x":524,"y":100},{"s":23,"i":1,"x":549,"y":115},{"s":23,"i":2,"x":534,"y":118},{"s":25,"i":0,"x":589,"y":135},{"s":25,"i":1,"x":604,"y":150},{"s":29,"i":0,"x":634,"y":232},{"s":29,"i":1,"x":665,"y":245},{"s":29,"i":2,"x":694,"y":262},{"s":37,"i":0,"x":424,"y":222},{"s":37,"i":1,"x":429,"y":272},{"s":37,"i":2,"x":434,"y":300},{"s":41,"i":0,"x":434,"y":327},{"s":41,"i":1,"x":479,"y":282},{"s":48,"i":0,"x":329,"y":367},{"s":48,"i":1,"x":369,"y":397},{"s":99,"i":0,"x":680,"y":225},{"s":99,"i":1,"x":685,"y":250},{"s":99,"i":2,"x":670,"y":260}],
"scalebar":[{"x":776,"x2":864,"y":421,"t":"2 km","ty":457,"tx":821}],
"di":[{"x":60,"y":0,"n":5},{"x":60,"y":10,"n":5},{"x":80,"y":-10,"n":5},{"x":80,"y":0,"n":20},{"x":80,"y":10,"n":20},{"x":80,"y":20,"n":5},{"x":100,"y":-20,"n":5},{"x":100,"y":-10,"n":30},{"x":100,"y":0,"n":60},{"x":100,"y":10,"n":50},{"x":100,"y":20,"n":15},{"x":100,"y":30,"n":5},{"x":120,"y":-20,"n":10},{"x":120,"y":-10,"n":50},{"x":120,"y":0,"n":120},{"x":120,"y":10,"n":100},{"x":120,"y":20,"n":35},{"x":120,"y":30,"n":10},{"x":120,"y":40,"n":5},{"x":140,"y":-25,"n":8},{"x":140,"y":-10,"n":100},{"x":140,"y":0,"n":260},{"x":140,"y":10,"n":220},{"x":140,"y":20,"n":70},{"x":140,"y":30,"n":20},{"x":140,"y":40,"n":8},{"x":160,"y":-30,"n":8},{"x":160,"y":-20,"n":50},{"x":160,"y":-10,"n":200},{"x":160,"y":0,"n":550},{"x":160,"y":10,"n":600},{"x":160,"y":20,"n":180},{"x":160,"y":30,"n":60},{"x":160,"y":40,"n":15},{"x":160,"y":50,"n":5},{"x":180,"y":-30,"n":10},{"x":180,"y":-20,"n":70},{"x":180,"y":-10,"n":280},{"x":180,"y":0,"n":800},{"x":180,"y":10,"n":900},{"x":180,"y":20,"n":350},{"x":180,"y":30,"n":110},{"x":180,"y":40,"n":30},{"x":180,"y":50,"n":8},{"x":200,"y":-30,"n":10},{"x":200,"y":-20,"n":70},{"x":200,"y":-10,"n":280},{"x":200,"y":0,"n":780},{"x":200,"y":10,"n":900},{"x":200,"y":20,"n":550},{"x":200,"y":30,"n":220},{"x":200,"y":40,"n":70},{"x":200,"y":50,"n":20},{"x":200,"y":60,"n":6},{"x":220,"y":-30,"n":10},{"x":220,"y":-20,"n":60},{"x":220,"y":-10,"n":220},{"x":220,"y":0,"n":560},{"x":220,"y":10,"n":830},{"x":220,"y":20,"n":760},{"x":220,"y":30,"n":450},{"x":220,"y":40,"n":180},{"x":220,"y":50,"n":50},{"x":220,"y":60,"n":15},{"x":220,"y":70,"n":5},{"x":240,"y":-30,"n":8},{"x":240,"y":-20,"n":45},{"x":240,"y":-10,"n":150},{"x":240,"y":0,"n":330},{"x":240,"y":10,"n":650},{"x":240,"y":20,"n":820},{"x":240,"y":30,"n":620},{"x":240,"y":40,"n":430},{"x":240,"y":50,"n":120},{"x":240,"y":60,"n":30},{"x":240,"y":70,"n":10},{"x":240,"y":80,"n":5},{"x":260,"y":-30,"n":6},{"x":260,"y":-20,"n":30},{"x":260,"y":-10,"n":90},{"x":260,"y":0,"n":200},{"x":260,"y":10,"n":420},{"x":260,"y":20,"n":620},{"x":260,"y":30,"n":540},{"x":260,"y":40,"n":350},{"x":260,"y":50,"n":140},{"x":260,"y":60,"n":45},{"x":260,"y":70,"n":15},{"x":260,"y":80,"n":6},{"x":280,"y":-30,"n":5},{"x":280,"y":-20,"n":15},{"x":280,"y":-10,"n":50},{"x":280,"y":0,"n":110},{"x":280,"y":10,"n":230},{"x":280,"y":20,"n":380},{"x":280,"y":30,"n":400},{"x":280,"y":40,"n":260},{"x":280,"y":50,"n":140},{"x":280,"y":60,"n":60},{"x":280,"y":70,"n":20},{"x":280,"y":80,"n":8},{"x":280,"y":90,"n":5},{"x":300,"y":-20,"n":8},{"x":300,"y":-10,"n":25},{"x":300,"y":0,"n":60},{"x":300,"y":10,"n":120},{"x":300,"y":20,"n":210},{"x":300,"y":30,"n":260},{"x":300,"y":40,"n":200},{"x":300,"y":50,"n":120},{"x":300,"y":60,"n":70},{"x":300,"y":70,"n":25},{"x":300,"y":80,"n":10},{"x":300,"y":90,"n":5},{"x":320,"y":-10,"n":12},{"x":320,"y":0,"n":30},{"x":320,"y":10,"n":60},{"x":320,"y":20,"n":110},{"x":320,"y":30,"n":150},{"x":320,"y":40,"n":150},{"x":320,"y":50,"n":100},{"x":320,"y":60,"n":70},{"x":320,"y":70,"n":30},{"x":320,"y":80,"n":12},{"x":320,"y":90,"n":5},{"x":320,"y":100,"n":5},{"x":340,"y":-10,"n":6},{"x":340,"y":0,"n":15},{"x":340,"y":10,"n":30},{"x":340,"y":20,"n":60},{"x":340,"y":30,"n":90},{"x":340,"y":40,"n":100},{"x":340,"y":50,"n":85},{"x":340,"y":60,"n":60},{"x":340,"y":70,"n":35},{"x":340,"y":80,"n":15},{"x":340,"y":90,"n":6},{"x":340,"y":100,"n":5},{"x":360,"y":0,"n":8},{"x":360,"y":10,"n":15},{"x":360,"y":20,"n":30},{"x":360,"y":30,"n":50},{"x":360,"y":40,"n":65},{"x":360,"y":50,"n":70},{"x":360,"y":60,"n":50},{"x":360,"y":70,"n":35},{"x":360,"y":80,"n":15},{"x":360,"y":90,"n":6},{"x":380,"y":10,"n":8},{"x":380,"y":20,"n":15},{"x":380,"y":30,"n":25},{"x":380,"y":40,"n":40},{"x":380,"y":50,"n":45},{"x":380,"y":60,"n":40},{"x":380,"y":70,"n":30},{"x":380,"y":80,"n":12},{"x":380,"y":90,"n":6},{"x":400,"y":20,"n":6},{"x":400,"y":30,"n":12},{"x":400,"y":40,"n":20},{"x":400,"y":50,"n":25},{"x":400,"y":60,"n":30},{"x":400,"y":70,"n":20},{"x":400,"y":80,"n":10},{"x":400,"y":90,"n":5},{"x":420,"y":30,"n":5},{"x":420,"y":40,"n":8},{"x":420,"y":50,"n":10},{"x":420,"y":60,"n":12},{"x":420,"y":70,"n":10},{"x":420,"y":80,"n":5},
{"x":110,"y":-5,"n":55},{"x":110,"y":5,"n":85},{"x":110,"y":15,"n":35},{"x":130,"y":-5,"n":110},{"x":130,"y":5,"n":190},{"x":130,"y":15,"n":80},{"x":150,"y":-5,"n":260},{"x":150,"y":5,"n":420},{"x":150,"y":15,"n":200},{"x":170,"y":-5,"n":480},{"x":170,"y":5,"n":860},{"x":170,"y":15,"n":560},{"x":170,"y":25,"n":140},{"x":190,"y":-5,"n":560},{"x":190,"y":5,"n":920},{"x":190,"y":15,"n":700},{"x":190,"y":25,"n":250},{"x":190,"y":35,"n":80},{"x":210,"y":-5,"n":430},{"x":210,"y":5,"n":880},{"x":210,"y":15,"n":820},{"x":210,"y":25,"n":470},{"x":210,"y":35,"n":170},{"x":230,"y":-5,"n":300},{"x":230,"y":5,"n":720},{"x":230,"y":15,"n":820},{"x":230,"y":25,"n":680},{"x":230,"y":35,"n":420},{"x":230,"y":45,"n":130},{"x":250,"y":-5,"n":190},{"x":250,"y":5,"n":480},{"x":250,"y":15,"n":680},{"x":250,"y":25,"n":660},{"x":250,"y":35,"n":520},{"x":250,"y":45,"n":260},{"x":250,"y":55,"n":70},{"x":270,"y":-5,"n":110},{"x":270,"y":5,"n":300},{"x":270,"y":15,"n":470},{"x":270,"y":25,"n":480},{"x":270,"y":35,"n":340},{"x":270,"y":45,"n":190},{"x":290,"y":-5,"n":50},{"x":290,"y":5,"n":160},{"x":290,"y":15,"n":280},{"x":290,"y":25,"n":320},{"x":290,"y":35,"n":240},{"x":290,"y":45,"n":130},{"x":310,"y":5,"n":85},{"x":310,"y":15,"n":150},{"x":310,"y":25,"n":210},{"x":310,"y":35,"n":180},{"x":310,"y":45,"n":120},{"x":330,"y":15,"n":85},{"x":330,"y":25,"n":125},{"x":330,"y":35,"n":130},{"x":330,"y":45,"n":100}],
"oi":[{"x":270,"y":110},{"x":280,"y":120},{"x":300,"y":125},{"x":310,"y":118},{"x":330,"y":130},{"x":340,"y":138},{"x":350,"y":115},{"x":330,"y":100},{"x":320,"y":95},{"x":300,"y":105},{"x":290,"y":95},{"x":270,"y":90},{"x":255,"y":88},{"x":240,"y":75},{"x":230,"y":85},{"x":220,"y":78},{"x":205,"y":68},{"x":190,"y":60},{"x":170,"y":58},{"x":160,"y":45},{"x":150,"y":38},{"x":130,"y":35},{"x":110,"y":30},{"x":90,"y":28},{"x":350,"y":130},{"x":360,"y":122},{"x":365,"y":112},{"x":370,"y":140},{"x":375,"y":160},{"x":380,"y":175},{"x":390,"y":150},{"x":395,"y":135},{"x":400,"y":120},{"x":405,"y":145},{"x":410,"y":165},{"x":415,"y":178},{"x":420,"y":130},{"x":430,"y":110},{"x":435,"y":150},{"x":440,"y":175},{"x":450,"y":130},{"x":455,"y":160},{"x":460,"y":178},{"x":470,"y":120},{"x":475,"y":145},{"x":480,"y":110},{"x":490,"y":135},{"x":495,"y":150},{"x":500,"y":100},{"x":505,"y":130},{"x":510,"y":78},{"x":505,"y":70},{"x":495,"y":85},{"x":485,"y":90},{"x":470,"y":95},{"x":455,"y":100},{"x":445,"y":95},{"x":430,"y":95},{"x":415,"y":100},{"x":400,"y":105},{"x":385,"y":105},{"x":420,"y":35},{"x":430,"y":45},{"x":440,"y":50},{"x":450,"y":60},{"x":460,"y":70},{"x":470,"y":55},{"x":480,"y":60},{"x":445,"y":35},{"x":455,"y":45},{"x":415,"y":20},{"x":405,"y":10},{"x":395,"y":5},{"x":385,"y":0},{"x":370,"y":-10},{"x":360,"y":-8},{"x":350,"y":-15},{"x":340,"y":-20},{"x":330,"y":-25},{"x":320,"y":-30},{"x":310,"y":-33},{"x":300,"y":-28},{"x":280,"y":-33},{"x":265,"y":-32},{"x":250,"y":-33},{"x":235,"y":-32},{"x":220,"y":-33},{"x":205,"y":-30},{"x":190,"y":-28},{"x":175,"y":-25},{"x":160,"y":-28},{"x":150,"y":-20},{"x":135,"y":-18},{"x":120,"y":-20},{"x":105,"y":-15},{"x":90,"y":-12},{"x":75,"y":-5},{"x":70,"y":5},{"x":80,"y":15},{"x":95,"y":22},{"x":100,"y":25},{"x":125,"y":38},{"x":145,"y":45},{"x":175,"y":62},{"x":210,"y":75},{"x":250,"y":95},{"x":290,"y":108},{"x":315,"y":108},{"x":345,"y":110},{"x":375,"y":100},{"x":410,"y":85},{"x":430,"y":80},{"x":440,"y":70},{"x":430,"y":20},{"x":415,"y":5},{"x":395,"y":-5},{"x":375,"y":-15},{"x":355,"y":-25},{"x":335,"y":-30},{"x":125,"y":-25},{"x":145,"y":-30},{"x":165,"y":-33},{"x":60,"y":-5},{"x":65,"y":12},{"x":440,"y":25},{"x":470,"y":40},{"x":490,"y":70},{"x":500,"y":55}],
"dj":[{"x":16,"y":0,"n":10},{"x":16,"y":2.5,"n":15},{"x":16,"y":5,"n":5},{"x":20,"y":0,"n":25},{"x":20,"y":2.5,"n":30},{"x":20,"y":5,"n":10},{"x":24,"y":-2.5,"n":10},{"x":24,"y":0,"n":60},{"x":24,"y":2.5,"n":50},{"x":24,"y":5,"n":15},{"x":24,"y":7.5,"n":5},{"x":28,"y":-2.5,"n":25},{"x":28,"y":0,"n":130},{"x":28,"y":2.5,"n":110},{"x":28,"y":5,"n":35},{"x":28,"y":7.5,"n":10},{"x":32,"y":-5,"n":10},{"x":32,"y":-2.5,"n":60},{"x":32,"y":0,"n":350},{"x":32,"y":2.5,"n":330},{"x":32,"y":5,"n":100},{"x":32,"y":7.5,"n":25},{"x":32,"y":10,"n":6},{"x":36,"y":-7.5,"n":5},{"x":36,"y":-5,"n":20},{"x":36,"y":-2.5,"n":130},{"x":36,"y":0,"n":750},{"x":36,"y":2.5,"n":1050},{"x":36,"y":5,"n":330},{"x":36,"y":7.5,"n":80},{"x":36,"y":10,"n":15},{"x":40,"y":-7.5,"n":8},{"x":40,"y":-5,"n":35},{"x":40,"y":-2.5,"n":180},{"x":40,"y":0,"n":800},{"x":40,"y":2.5,"n":1120},{"x":40,"y":5,"n":620},{"x":40,"y":7.5,"n":200},{"x":40,"y":10,"n":40},{"x":40,"y":12.5,"n":8},{"x":44,"y":-7.5,"n":10},{"x":44,"y":-5,"n":40},{"x":44,"y":-2.5,"n":170},{"x":44,"y":0,"n":560},{"x":44,"y":2.5,"n":1000},{"x":44,"y":5,"n":760},{"x":44,"y":7.5,"n":350},{"x":44,"y":10,"n":90},{"x":44,"y":12.5,"n":15},{"x":48,"y":-7.5,"n":10},{"x":48,"y":-5,"n":30},{"x":48,"y":-2.5,"n":110},{"x":48,"y":0,"n":280},{"x":48,"y":2.5,"n":580},{"x":48,"y":5,"n":640},{"x":48,"y":7.5,"n":400},{"x":48,"y":10,"n":140},{"x":48,"y":12.5,"n":25},{"x":48,"y":15,"n":5},{"x":52,"y":-7.5,"n":8},{"x":52,"y":-5,"n":20},{"x":52,"y":-2.5,"n":60},{"x":52,"y":0,"n":130},{"x":52,"y":2.5,"n":300},{"x":52,"y":5,"n":390},{"x":52,"y":7.5,"n":320},{"x":52,"y":10,"n":150},{"x":52,"y":12.5,"n":35},{"x":52,"y":15,"n":8},{"x":56,"y":-7.5,"n":5},{"x":56,"y":-5,"n":10},{"x":56,"y":-2.5,"n":30},{"x":56,"y":0,"n":70},{"x":56,"y":2.5,"n":140},{"x":56,"y":5,"n":230},{"x":56,"y":7.5,"n":230},{"x":56,"y":10,"n":130},{"x":56,"y":12.5,"n":40},{"x":56,"y":15,"n":10},{"x":60,"y":-5,"n":5},{"x":60,"y":-2.5,"n":15},{"x":60,"y":0,"n":30},{"x":60,"y":2.5,"n":70},{"x":60,"y":5,"n":120},{"x":60,"y":7.5,"n":150},{"x":60,"y":10,"n":110},{"x":60,"y":12.5,"n":45},{"x":60,"y":15,"n":15},{"x":60,"y":17.5,"n":5},{"x":64,"y":0,"n":10},{"x":64,"y":2.5,"n":25},{"x":64,"y":5,"n":55},{"x":64,"y":7.5,"n":75},{"x":64,"y":10,"n":70},{"x":64,"y":12.5,"n":40},{"x":64,"y":15,"n":15},{"x":64,"y":17.5,"n":5},{"x":68,"y":2.5,"n":10},{"x":68,"y":5,"n":20},{"x":68,"y":7.5,"n":35},{"x":68,"y":10,"n":40},{"x":68,"y":12.5,"n":30},{"x":68,"y":15,"n":12},{"x":68,"y":17.5,"n":5},{"x":72,"y":5,"n":8},{"x":72,"y":7.5,"n":15},{"x":72,"y":10,"n":18},{"x":72,"y":12.5,"n":15},{"x":72,"y":15,"n":8},{"x":72,"y":17.5,"n":5},{"x":76,"y":7.5,"n":5},{"x":76,"y":10,"n":8},{"x":76,"y":12.5,"n":8},{"x":76,"y":15,"n":5},
{"x":30,"y":-1.25,"n":60},{"x":30,"y":1.25,"n":240},{"x":30,"y":3.75,"n":110},{"x":34,"y":-3.75,"n":30},{"x":34,"y":-1.25,"n":160},{"x":34,"y":1.25,"n":800},{"x":34,"y":3.75,"n":460},{"x":34,"y":6.25,"n":100},{"x":38,"y":-3.75,"n":60},{"x":38,"y":-1.25,"n":380},{"x":38,"y":1.25,"n":1100},{"x":38,"y":3.75,"n":850},{"x":38,"y":6.25,"n":240},{"x":38,"y":8.75,"n":50},{"x":42,"y":-3.75,"n":90},{"x":42,"y":-1.25,"n":420},{"x":42,"y":1.25,"n":1120},{"x":42,"y":3.75,"n":950},{"x":42,"y":6.25,"n":470},{"x":42,"y":8.75,"n":120},{"x":46,"y":-3.75,"n":80},{"x":46,"y":-1.25,"n":280},{"x":46,"y":1.25,"n":800},{"x":46,"y":3.75,"n":850},{"x":46,"y":6.25,"n":520},{"x":46,"y":8.75,"n":200},{"x":50,"y":-3.75,"n":50},{"x":50,"y":-1.25,"n":170},{"x":50,"y":1.25,"n":430},{"x":50,"y":3.75,"n":570},{"x":50,"y":6.25,"n":430},{"x":50,"y":8.75,"n":220},{"x":50,"y":11.25,"n":70},{"x":54,"y":-1.25,"n":90},{"x":54,"y":1.25,"n":230},{"x":54,"y":3.75,"n":320},{"x":54,"y":6.25,"n":320},{"x":54,"y":8.75,"n":210},{"x":54,"y":11.25,"n":85},{"x":58,"y":1.25,"n":110},{"x":58,"y":3.75,"n":180},{"x":58,"y":6.25,"n":220},{"x":58,"y":8.75,"n":170},{"x":58,"y":11.25,"n":90},{"x":62,"y":3.75,"n":95},{"x":62,"y":6.25,"n":125},{"x":62,"y":8.75,"n":120},{"x":62,"y":11.25,"n":70}],
"oj":[{"x":85,"y":47},{"x":88,"y":47.5},{"x":83,"y":47},{"x":84,"y":42},{"x":83,"y":44},{"x":75,"y":36.5},{"x":78,"y":35},{"x":80,"y":33},{"x":85,"y":32},{"x":90,"y":28},{"x":72,"y":32},{"x":70,"y":30},{"x":73,"y":30},{"x":75,"y":28},{"x":68,"y":27},{"x":65,"y":27},{"x":62,"y":28},{"x":60,"y":26},{"x":60,"y":24},{"x":62,"y":23},{"x":65,"y":24},{"x":67,"y":22},{"x":70,"y":24},{"x":74,"y":25},{"x":78,"y":28},{"x":80,"y":27},{"x":82,"y":24},{"x":84,"y":22},{"x":88,"y":20},{"x":91,"y":19},{"x":94,"y":27},{"x":95,"y":24},{"x":86,"y":17},{"x":84,"y":14},{"x":80,"y":15},{"x":76,"y":13},{"x":82,"y":19},{"x":78,"y":19},{"x":72,"y":20},{"x":68,"y":18},{"x":64,"y":20},{"x":58,"y":21},{"x":55,"y":20},{"x":52,"y":19},{"x":50,"y":21},{"x":48,"y":18},{"x":45,"y":16},{"x":40,"y":15},{"x":37,"y":17},{"x":36,"y":18},{"x":33,"y":18},{"x":30,"y":13},{"x":28,"y":11},{"x":25,"y":10},{"x":22,"y":7},{"x":18,"y":6},{"x":15,"y":5},{"x":12,"y":5},{"x":10,"y":2},{"x":9,"y":-1},{"x":14,"y":-1},{"x":18,"y":-2},{"x":24,"y":-3},{"x":28,"y":-5},{"x":26,"y":-7},{"x":30,"y":-7.5},{"x":34,"y":-7},{"x":38,"y":-7.5},{"x":44,"y":-8},{"x":50,"y":-7},{"x":56,"y":-7},{"x":60,"y":-7},{"x":62,"y":-3},{"x":65,"y":0},{"x":68,"y":2},{"x":72,"y":3},{"x":75,"y":5},{"x":78,"y":7},{"x":80,"y":10},{"x":82,"y":12},{"x":85,"y":10},{"x":78,"y":12},{"x":44,"y":15},{"x":42,"y":13},{"x":46,"y":14},{"x":50,"y":16},{"x":54,"y":17},{"x":58,"y":18},{"x":66,"y":16},{"x":70,"y":16},{"x":75,"y":17},{"x":20,"y":8},{"x":27,"y":9},{"x":33,"y":14},{"x":38,"y":14},{"x":43,"y":17},{"x":47,"y":19},{"x":70,"y":13},{"x":80,"y":20},{"x":72,"y":0},{"x":64,"y":-4},{"x":56,"y":-4},{"x":20,"y":-3},{"x":14,"y":4},{"x":33,"y":-8},{"x":41,"y":-6},{"x":47,"y":-8},{"x":53,"y":-5}]
},
"hconcat":[
{"concat":[
{"width":411,"height":206,"encoding":{"x":{"field":"x","type":"quantitative","axis":null,"scale":{"domain":[0,1233],"nice":false,"zero":false}},"y":{"field":"y","type":"quantitative","axis":null,"scale":{"domain":[618,0],"nice":false,"zero":false}}},"layer":[
{"data":{"values":[{"x":-261,"x2":-135,"y":3,"y2":474}]},"mark":{"type":"rect","fill":"#b9b9b9"},"encoding":{"x2":{"field":"x2"},"y2":{"field":"y2"}}},
{"data":{"values":[{"x":-198,"y":237,"t":"Prediction"}]},"mark":{"type":"text","font":"Liberation Sans","fontSize":25,"fontWeight":"bold","fontStyle":"italic","angle":270,"color":"#000","baseline":"middle"},"encoding":{"text":{"field":"t"}}},
{"data":{"name":"bands"},"mark":{"type":"rect","fill":"#efefef"},"encoding":{"x2":{"field":"x2"},"y2":{"field":"y2"}}},
{"data":{"name":"frame"},"mark":{"type":"rect","fill":"#d4d4d4"},"encoding":{"x2":{"field":"x2"},"y2":{"field":"y2"}}},
{"data":{"name":"land"},"mark":{"type":"area","fill":"#fdfdfd","orient":"vertical"},"encoding":{"y2":{"field":"y2"},"detail":{"field":"k"}}},
{"data":{"name":"pale"},"mark":{"type":"area","fill":"#e6e6e6","orient":"vertical"},"encoding":{"y2":{"field":"y2"},"detail":{"field":"k"}}},
{"data":{"name":"thin"},"mark":{"type":"line","stroke":"#a8a8a8","strokeWidth":1.2},"encoding":{"detail":{"field":"k"},"order":{"field":"i"}}},
{"data":{"name":"prof"},"transform":[{"filter":"datum.p=='ac'"}],"mark":{"type":"line","stroke":"#606060","strokeWidth":2.3},"encoding":{"detail":{"field":"k"},"order":{"field":"i"}}},
{"data":{"name":"roads"},"transform":[{"lookup":"s","from":{"data":{"name":"seg"},"key":"s","fields":["a"]}}],"mark":{"type":"line","strokeWidth":1.6,"strokeJoin":"round","interpolate":"cardinal"},"encoding":{"detail":{"field":"s"},"order":{"field":"i"},"color":{"field":"a","type":"quantitative","scale":{"interpolate":"rgb","domain":[0,51.6,103.2,154.8,206.4,258,309.6,361.2,412.8,464.4,516],"range":["#006837","#1a9850","#66bd63","#a6d96a","#d9ef8b","#ffffbf","#fee08b","#fdae61","#f46d43","#d73027","#a50026"]},"legend":{"title":null,"legendX":306,"legendY":32,"values":[0,200,400],"labelExpr":"'- '+datum.label"}}}},
{"data":{"name":"scalebar"},"mark":{"type":"rule","stroke":"#111","strokeWidth":1.5},"encoding":{"x2":{"field":"x2"}}},
{"data":{"name":"scalebar"},"mark":{"type":"text","fontSize":10.5,"fontWeight":"bold","color":"#111"},"encoding":{"x":{"field":"tx","type":"quantitative"},"y":{"field":"ty","type":"quantitative"},"text":{"field":"t"}}},
{"data":{"values":[{"x":70,"y":436,"t":"(a)"}]},"mark":{"type":"text","fontSize":25,"fontWeight":"bold","color":"#000"},"encoding":{"text":{"field":"t"}}},
{"data":{"values":[{"x":990,"y":66,"t":"NO / ppb"}]},"mark":{"type":"text","fontSize":13,"fontWeight":"bold","color":"#111"},"encoding":{"text":{"field":"t"}}},
{"data":{"values":[{"x":456,"y":-138,"t":"NO"}]},"mark":{"type":"text","font":"Liberation Sans","fontSize":26,"fontWeight":"bold","color":"#000"},"encoding":{"text":{"field":"t"}}}
]},
{"width":293,"height":206,"encoding":{"x":{"field":"x","type":"quantitative","axis":null,"scale":{"domain":[0,879],"nice":false,"zero":false}},"y":{"field":"y","type":"quantitative","axis":null,"scale":{"domain":[618,0],"nice":false,"zero":false}}},"layer":[
{"data":{"name":"bands"},"mark":{"type":"rect","fill":"#efefef"},"encoding":{"x2":{"field":"x2"},"y2":{"field":"y2"}}},
{"data":{"name":"frame"},"mark":{"type":"rect","fill":"#d4d4d4"},"encoding":{"x2":{"field":"x2"},"y2":{"field":"y2"}}},
{"data":{"name":"land"},"mark":{"type":"area","fill":"#fdfdfd","orient":"vertical"},"encoding":{"y2":{"field":"y2"},"detail":{"field":"k"}}},
{"data":{"name":"pale"},"mark":{"type":"area","fill":"#e6e6e6","orient":"vertical"},"encoding":{"y2":{"field":"y2"},"detail":{"field":"k"}}},
{"data":{"name":"thin"},"mark":{"type":"line","stroke":"#a8a8a8","strokeWidth":1.2},"encoding":{"detail":{"field":"k"},"order":{"field":"i"}}},
{"data":{"name":"prof"},"transform":[{"filter":"datum.p=='bd'"}],"mark":{"type":"line","stroke":"#606060","strokeWidth":2.3},"encoding":{"detail":{"field":"k"},"order":{"field":"i"}}},
{"data":{"name":"roads"},"transform":[{"lookup":"s","from":{"data":{"name":"seg"},"key":"s","fields":["b"]}}],"mark":{"type":"line","strokeWidth":1.6,"strokeJoin":"round","interpolate":"cardinal"},"encoding":{"detail":{"field":"s"},"order":{"field":"i"},"color":{"field":"b","type":"quantitative","scale":{"interpolate":"rgb","domain":[0,9.67,19.34,29.01,38.68,48.35,58.02,67.69,77.36,87.03,96.7],"range":["#006837","#1a9850","#66bd63","#a6d96a","#d9ef8b","#ffffbf","#fee08b","#fdae61","#f46d43","#d73027","#a50026"]},"legend":{"title":null,"legendX":307,"legendY":32,"values":[0,25,50,75],"labelExpr":"'- '+datum.label"}}}},
{"data":{"name":"scalebar"},"mark":{"type":"rule","stroke":"#111","strokeWidth":1.5},"encoding":{"x2":{"field":"x2"}}},
{"data":{"name":"scalebar"},"mark":{"type":"text","fontSize":10.5,"fontWeight":"bold","color":"#111"},"encoding":{"x":{"field":"tx","type":"quantitative"},"y":{"field":"ty","type":"quantitative"},"text":{"field":"t"}}},
{"data":{"values":[{"x":66,"y":436,"t":"(b)"}]},"mark":{"type":"text","fontSize":25,"fontWeight":"bold","color":"#000"},"encoding":{"text":{"field":"t"}}},
{"data":{"values":[{"x":999,"y":66,"t":"NO₂ / ppb"}]},"mark":{"type":"text","fontSize":13,"fontWeight":"bold","color":"#111"},"encoding":{"text":{"field":"t"}}},
{"data":{"values":[{"x":453,"y":-138,"t":"NO₂"}]},"mark":{"type":"text","font":"Liberation Sans","fontSize":26,"fontWeight":"bold","color":"#000"},"encoding":{"text":{"field":"t"}}}
]},
{"width":411,"height":198,"encoding":{"x":{"field":"x","type":"quantitative","axis":null,"scale":{"domain":[0,1233],"nice":false,"zero":false}},"y":{"field":"y","type":"quantitative","axis":null,"scale":{"domain":[594,0],"nice":false,"zero":false}}},"layer":[
{"data":{"values":[{"x":-261,"x2":-135,"y":9,"y2":480}]},"mark":{"type":"rect","fill":"#d8d8d8"},"encoding":{"x2":{"field":"x2"},"y2":{"field":"y2"}}},
{"data":{"values":[{"x":-198,"y":240,"t":"Free"}]},"mark":{"type":"text","font":"Liberation Sans","fontSize":25,"fontWeight":"bold","fontStyle":"italic","angle":270,"color":"#000","baseline":"middle"},"encoding":{"text":{"field":"t"}}},
{"data":{"name":"bands"},"mark":{"type":"rect","fill":"#efefef"},"encoding":{"x2":{"field":"x2"},"y2":{"field":"y2"}}},
{"data":{"name":"frame"},"mark":{"type":"rect","fill":"#d4d4d4"},"encoding":{"x2":{"field":"x2"},"y2":{"field":"y2"}}},
{"data":{"name":"land"},"mark":{"type":"area","fill":"#fdfdfd","orient":"vertical"},"encoding":{"y2":{"field":"y2"},"detail":{"field":"k"}}},
{"data":{"name":"pale"},"mark":{"type":"area","fill":"#e6e6e6","orient":"vertical"},"encoding":{"y2":{"field":"y2"},"detail":{"field":"k"}}},
{"data":{"name":"thin"},"mark":{"type":"line","stroke":"#a8a8a8","strokeWidth":1.2},"encoding":{"detail":{"field":"k"},"order":{"field":"i"}}},
{"data":{"name":"prof"},"transform":[{"filter":"datum.p=='ac'"}],"mark":{"type":"line","stroke":"#606060","strokeWidth":2.3},"encoding":{"detail":{"field":"k"},"order":{"field":"i"}}},
{"data":{"name":"roads"},"transform":[{"lookup":"s","from":{"data":{"name":"seg"},"key":"s","fields":["c"]}}],"mark":{"type":"line","strokeWidth":1.6,"strokeJoin":"round","interpolate":"cardinal"},"encoding":{"detail":{"field":"s"},"order":{"field":"i"},"color":{"field":"c","type":"quantitative","scale":{"interpolate":"rgb","domain":[0,51.6,103.2,154.8,206.4,258,309.6,361.2,412.8,464.4,516],"range":["#006837","#1a9850","#66bd63","#a6d96a","#d9ef8b","#ffffbf","#fee08b","#fdae61","#f46d43","#d73027","#a50026"]},"legend":{"title":null,"legendX":306,"legendY":32,"values":[0,200,400],"labelExpr":"'- '+datum.label"}}}},
{"data":{"name":"scalebar"},"mark":{"type":"rule","stroke":"#111","strokeWidth":1.5},"encoding":{"x2":{"field":"x2"}}},
{"data":{"name":"scalebar"},"mark":{"type":"text","fontSize":10.5,"fontWeight":"bold","color":"#111"},"encoding":{"x":{"field":"tx","type":"quantitative"},"y":{"field":"ty","type":"quantitative"},"text":{"field":"t"}}},
{"data":{"values":[{"x":70,"y":436,"t":"(c)"}]},"mark":{"type":"text","fontSize":25,"fontWeight":"bold","color":"#000"},"encoding":{"text":{"field":"t"}}},
{"data":{"values":[{"x":990,"y":72,"t":"NO / ppb"}]},"mark":{"type":"text","fontSize":13,"fontWeight":"bold","color":"#111"},"encoding":{"text":{"field":"t"}}}
]},
{"width":293,"height":198,"encoding":{"x":{"field":"x","type":"quantitative","axis":null,"scale":{"domain":[0,879],"nice":false,"zero":false}},"y":{"field":"y","type":"quantitative","axis":null,"scale":{"domain":[594,0],"nice":false,"zero":false}}},"layer":[
{"data":{"name":"bands"},"mark":{"type":"rect","fill":"#efefef"},"encoding":{"x2":{"field":"x2"},"y2":{"field":"y2"}}},
{"data":{"name":"frame"},"mark":{"type":"rect","fill":"#d4d4d4"},"encoding":{"x2":{"field":"x2"},"y2":{"field":"y2"}}},
{"data":{"name":"land"},"mark":{"type":"area","fill":"#fdfdfd","orient":"vertical"},"encoding":{"y2":{"field":"y2"},"detail":{"field":"k"}}},
{"data":{"name":"pale"},"mark":{"type":"area","fill":"#e6e6e6","orient":"vertical"},"encoding":{"y2":{"field":"y2"},"detail":{"field":"k"}}},
{"data":{"name":"thin"},"mark":{"type":"line","stroke":"#a8a8a8","strokeWidth":1.2},"encoding":{"detail":{"field":"k"},"order":{"field":"i"}}},
{"data":{"name":"prof"},"transform":[{"filter":"datum.p=='bd'"}],"mark":{"type":"line","stroke":"#606060","strokeWidth":2.3},"encoding":{"detail":{"field":"k"},"order":{"field":"i"}}},
{"data":{"name":"roads"},"transform":[{"lookup":"s","from":{"data":{"name":"seg"},"key":"s","fields":["d"]}}],"mark":{"type":"line","strokeWidth":1.6,"strokeJoin":"round","interpolate":"cardinal"},"encoding":{"detail":{"field":"s"},"order":{"field":"i"},"color":{"field":"d","type":"quantitative","scale":{"interpolate":"rgb","domain":[0,9.67,19.34,29.01,38.68,48.35,58.02,67.69,77.36,87.03,96.7],"range":["#006837","#1a9850","#66bd63","#a6d96a","#d9ef8b","#ffffbf","#fee08b","#fdae61","#f46d43","#d73027","#a50026"]},"legend":{"title":null,"legendX":307,"legendY":32,"values":[0,25,50,75],"labelExpr":"'- '+datum.label"}}}},
{"data":{"name":"scalebar"},"mark":{"type":"rule","stroke":"#111","strokeWidth":1.5},"encoding":{"x2":{"field":"x2"}}},
{"data":{"name":"scalebar"},"mark":{"type":"text","fontSize":10.5,"fontWeight":"bold","color":"#111"},"encoding":{"x":{"field":"tx","type":"quantitative"},"y":{"field":"ty","type":"quantitative"},"text":{"field":"t"}}},
{"data":{"values":[{"x":66,"y":436,"t":"(d)"}]},"mark":{"type":"text","fontSize":25,"fontWeight":"bold","color":"#000"},"encoding":{"text":{"field":"t"}}},
{"data":{"values":[{"x":999,"y":72,"t":"NO₂ / ppb"}]},"mark":{"type":"text","fontSize":13,"fontWeight":"bold","color":"#111"},"encoding":{"text":{"field":"t"}}}
]},
{"width":411,"height":203,"encoding":{"x":{"field":"x","type":"quantitative","axis":null,"scale":{"domain":[0,1233],"nice":false,"zero":false}},"y":{"field":"y","type":"quantitative","axis":null,"scale":{"domain":[609,0],"nice":false,"zero":false}}},"layer":[
{"data":{"values":[{"x":-261,"x2":-135,"y":6,"y2":477}]},"mark":{"type":"rect","fill":"#b9b9b9"},"encoding":{"x2":{"field":"x2"},"y2":{"field":"y2"}}},
{"data":{"values":[{"x":-198,"y":240,"t":"Reduction"}]},"mark":{"type":"text","font":"Liberation Sans","fontSize":25,"fontWeight":"bold","fontStyle":"italic","angle":270,"color":"#000","baseline":"middle"},"encoding":{"text":{"field":"t"}}},
{"data":{"name":"bands"},"mark":{"type":"rect","fill":"#efefef"},"encoding":{"x2":{"field":"x2"},"y2":{"field":"y2"}}},
{"data":{"name":"frame"},"mark":{"type":"rect","fill":"#d4d4d4"},"encoding":{"x2":{"field":"x2"},"y2":{"field":"y2"}}},
{"data":{"name":"land"},"mark":{"type":"area","fill":"#fdfdfd","orient":"vertical"},"encoding":{"y2":{"field":"y2"},"detail":{"field":"k"}}},
{"data":{"name":"pale"},"mark":{"type":"area","fill":"#e6e6e6","orient":"vertical"},"encoding":{"y2":{"field":"y2"},"detail":{"field":"k"}}},
{"data":{"name":"thin"},"mark":{"type":"line","stroke":"#a8a8a8","strokeWidth":1.2},"encoding":{"detail":{"field":"k"},"order":{"field":"i"}}},
{"data":{"name":"prof"},"transform":[{"filter":"datum.p=='eg'"}],"mark":{"type":"line","stroke":"#606060","strokeWidth":2.3},"encoding":{"detail":{"field":"k"},"order":{"field":"i"}}},
{"data":{"name":"roads"},"transform":[{"lookup":"s","from":{"data":{"name":"seg"},"key":"s","fields":["e"]}}],"mark":{"type":"line","strokeWidth":1.8,"strokeJoin":"round","interpolate":"cardinal"},"encoding":{"detail":{"field":"s"},"order":{"field":"i"},"color":{"field":"e","type":"quantitative","scale":{"interpolate":"rgb","domain":[0,48,96],"range":["#0000ff","#ffffff","#ff0000"]},"legend":{"title":null,"legendX":306,"legendY":32,"values":[0,25,50,75],"labelExpr":"'- '+datum.label"}}}},
{"data":{"name":"scalebar"},"mark":{"type":"rule","stroke":"#111","strokeWidth":1.5},"encoding":{"x2":{"field":"x2"}}},
{"data":{"name":"scalebar"},"mark":{"type":"text","fontSize":10.5,"fontWeight":"bold","color":"#111"},"encoding":{"x":{"field":"tx","type":"quantitative"},"y":{"field":"ty","type":"quantitative"},"text":{"field":"t"}}},
{"data":{"values":[{"x":70,"y":436,"t":"(e)"}]},"mark":{"type":"text","fontSize":25,"fontWeight":"bold","color":"#000"},"encoding":{"text":{"field":"t"}}},
{"data":{"values":[{"x":990,"y":75,"t":"NO / ppb"}]},"mark":{"type":"text","fontSize":13,"fontWeight":"bold","color":"#111"},"encoding":{"text":{"field":"t"}}}
]},
{"width":293,"height":203,"encoding":{"x":{"field":"x","type":"quantitative","axis":null,"scale":{"domain":[0,879],"nice":false,"zero":false}},"y":{"field":"y","type":"quantitative","axis":null,"scale":{"domain":[609,0],"nice":false,"zero":false}}},"layer":[
{"data":{"name":"bands"},"mark":{"type":"rect","fill":"#efefef"},"encoding":{"x2":{"field":"x2"},"y2":{"field":"y2"}}},
{"data":{"name":"frame"},"mark":{"type":"rect","fill":"#d4d4d4"},"encoding":{"x2":{"field":"x2"},"y2":{"field":"y2"}}},
{"data":{"name":"land"},"mark":{"type":"area","fill":"#fdfdfd","orient":"vertical"},"encoding":{"y2":{"field":"y2"},"detail":{"field":"k"}}},
{"data":{"name":"pale"},"mark":{"type":"area","fill":"#e6e6e6","orient":"vertical"},"encoding":{"y2":{"field":"y2"},"detail":{"field":"k"}}},
{"data":{"name":"thin"},"mark":{"type":"line","stroke":"#a8a8a8","strokeWidth":1.2},"encoding":{"detail":{"field":"k"},"order":{"field":"i"}}},
{"data":{"name":"prof"},"transform":[{"filter":"datum.p=='fh'"}],"mark":{"type":"line","stroke":"#606060","strokeWidth":2.3},"encoding":{"detail":{"field":"k"},"order":{"field":"i"}}},
{"data":{"name":"roads"},"transform":[{"lookup":"s","from":{"data":{"name":"seg"},"key":"s","fields":["f"]}}],"mark":{"type":"line","strokeWidth":1.8,"strokeJoin":"round","interpolate":"cardinal"},"encoding":{"detail":{"field":"s"},"order":{"field":"i"},"color":{"field":"f","type":"quantitative","scale":{"interpolate":"rgb","domain":[0,8.85,17.7],"range":["#0000ff","#ffffff","#ff0000"]},"legend":{"title":null,"legendX":307,"legendY":32,"values":[0,5,10,15],"labelExpr":"'- '+datum.label"}}}},
{"data":{"name":"scalebar"},"mark":{"type":"rule","stroke":"#111","strokeWidth":1.5},"encoding":{"x2":{"field":"x2"}}},
{"data":{"name":"scalebar"},"mark":{"type":"text","fontSize":10.5,"fontWeight":"bold","color":"#111"},"encoding":{"x":{"field":"tx","type":"quantitative"},"y":{"field":"ty","type":"quantitative"},"text":{"field":"t"}}},
{"data":{"values":[{"x":60,"y":436,"t":"(f)"}]},"mark":{"type":"text","fontSize":25,"fontWeight":"bold","color":"#000"},"encoding":{"text":{"field":"t"}}},
{"data":{"values":[{"x":999,"y":66,"t":"NO₂ / ppb"}]},"mark":{"type":"text","fontSize":13,"fontWeight":"bold","color":"#111"},"encoding":{"text":{"field":"t"}}}
]},
{"width":411,"height":163,"encoding":{"x":{"field":"x","type":"quantitative","axis":null,"scale":{"domain":[0,1233],"nice":false,"zero":false}},"y":{"field":"y","type":"quantitative","axis":null,"scale":{"domain":[489,0],"nice":false,"zero":false}}},"layer":[
{"data":{"values":[{"x":-255,"x2":-132,"y":9,"y2":480}]},"mark":{"type":"rect","fill":"#d8d8d8"},"encoding":{"x2":{"field":"x2"},"y2":{"field":"y2"}}},
{"data":{"values":[{"x":-195,"y":240,"t":"Ratio"}]},"mark":{"type":"text","font":"Liberation Sans","fontSize":25,"fontWeight":"bold","fontStyle":"italic","angle":270,"color":"#000","baseline":"middle"},"encoding":{"text":{"field":"t"}}},
{"data":{"name":"bands"},"mark":{"type":"rect","fill":"#efefef"},"encoding":{"x2":{"field":"x2"},"y2":{"field":"y2"}}},
{"data":{"name":"frame"},"mark":{"type":"rect","fill":"#d4d4d4"},"encoding":{"x2":{"field":"x2"},"y2":{"field":"y2"}}},
{"data":{"name":"land"},"mark":{"type":"area","fill":"#fdfdfd","orient":"vertical"},"encoding":{"y2":{"field":"y2"},"detail":{"field":"k"}}},
{"data":{"name":"pale"},"mark":{"type":"area","fill":"#e6e6e6","orient":"vertical"},"encoding":{"y2":{"field":"y2"},"detail":{"field":"k"}}},
{"data":{"name":"thin"},"mark":{"type":"line","stroke":"#a8a8a8","strokeWidth":1.2},"encoding":{"detail":{"field":"k"},"order":{"field":"i"}}},
{"data":{"name":"prof"},"transform":[{"filter":"datum.p=='eg'"}],"mark":{"type":"line","stroke":"#606060","strokeWidth":2.3},"encoding":{"detail":{"field":"k"},"order":{"field":"i"}}},
{"data":{"name":"roads"},"transform":[{"lookup":"s","from":{"data":{"name":"seg"},"key":"s","fields":["g"]}}],"mark":{"type":"line","strokeWidth":1.8,"strokeJoin":"round","interpolate":"cardinal"},"encoding":{"detail":{"field":"s"},"order":{"field":"i"},"color":{"field":"g","type":"quantitative","scale":{"interpolate":"rgb","domain":[0,0.171,0.342],"range":["#0000ff","#ffffff","#ff0000"]},"legend":{"title":null,"legendX":306,"legendY":33,"values":[0,0.1,0.2,0.3],"format":".1f","labelExpr":"'- '+datum.label"}}}},
{"data":{"name":"scalebar"},"mark":{"type":"rule","stroke":"#111","strokeWidth":1.5},"encoding":{"x2":{"field":"x2"}}},
{"data":{"name":"scalebar"},"mark":{"type":"text","fontSize":10.5,"fontWeight":"bold","color":"#111"},"encoding":{"x":{"field":"tx","type":"quantitative"},"y":{"field":"ty","type":"quantitative"},"text":{"field":"t"}}},
{"data":{"values":[{"x":70,"y":440,"t":"(g)"}]},"mark":{"type":"text","fontSize":25,"fontWeight":"bold","color":"#000"},"encoding":{"text":{"field":"t"}}},
{"data":{"values":[{"x":993,"y":69,"t":"NO / %"}]},"mark":{"type":"text","fontSize":13,"fontWeight":"bold","color":"#111"},"encoding":{"text":{"field":"t"}}}
]},
{"width":293,"height":163,"encoding":{"x":{"field":"x","type":"quantitative","axis":null,"scale":{"domain":[0,879],"nice":false,"zero":false}},"y":{"field":"y","type":"quantitative","axis":null,"scale":{"domain":[489,0],"nice":false,"zero":false}}},"layer":[
{"data":{"name":"bands"},"mark":{"type":"rect","fill":"#efefef"},"encoding":{"x2":{"field":"x2"},"y2":{"field":"y2"}}},
{"data":{"name":"frame"},"mark":{"type":"rect","fill":"#d4d4d4"},"encoding":{"x2":{"field":"x2"},"y2":{"field":"y2"}}},
{"data":{"name":"land"},"mark":{"type":"area","fill":"#fdfdfd","orient":"vertical"},"encoding":{"y2":{"field":"y2"},"detail":{"field":"k"}}},
{"data":{"name":"pale"},"mark":{"type":"area","fill":"#e6e6e6","orient":"vertical"},"encoding":{"y2":{"field":"y2"},"detail":{"field":"k"}}},
{"data":{"name":"thin"},"mark":{"type":"line","stroke":"#a8a8a8","strokeWidth":1.2},"encoding":{"detail":{"field":"k"},"order":{"field":"i"}}},
{"data":{"name":"prof"},"transform":[{"filter":"datum.p=='fh'"}],"mark":{"type":"line","stroke":"#606060","strokeWidth":2.3},"encoding":{"detail":{"field":"k"},"order":{"field":"i"}}},
{"data":{"name":"roads"},"transform":[{"lookup":"s","from":{"data":{"name":"seg"},"key":"s","fields":["h"]}}],"mark":{"type":"line","strokeWidth":1.8,"strokeJoin":"round","interpolate":"cardinal"},"encoding":{"detail":{"field":"s"},"order":{"field":"i"},"color":{"field":"h","type":"quantitative","scale":{"interpolate":"rgb","domain":[0,0.171,0.342],"range":["#0000ff","#ffffff","#ff0000"]},"legend":{"title":null,"legendX":307,"legendY":33,"values":[0,0.1,0.2,0.3],"format":".1f","labelExpr":"'- '+datum.label"}}}},
{"data":{"name":"scalebar"},"mark":{"type":"rule","stroke":"#111","strokeWidth":1.5},"encoding":{"x2":{"field":"x2"}}},
{"data":{"name":"scalebar"},"mark":{"type":"text","fontSize":10.5,"fontWeight":"bold","color":"#111"},"encoding":{"x":{"field":"tx","type":"quantitative"},"y":{"field":"ty","type":"quantitative"},"text":{"field":"t"}}},
{"data":{"values":[{"x":66,"y":440,"t":"(h)"}]},"mark":{"type":"text","fontSize":25,"fontWeight":"bold","color":"#000"},"encoding":{"text":{"field":"t"}}},
{"data":{"values":[{"x":999,"y":69,"t":"NO₂ / %"}]},"mark":{"type":"text","fontSize":13,"fontWeight":"bold","color":"#111"},"encoding":{"text":{"field":"t"}}}
]}
],"columns":2,"spacing":0,"bounds":"flush","align":"each","resolve":{"scale":{"color":"independent"},"legend":{"color":"independent"}}},
{"vconcat":[
{"width":10,"height":90,"data":{"values":[{"x":0}]},"mark":{"type":"point","opacity":0},"encoding":{"x":{"field":"x","type":"quantitative","axis":null}}},
{"vconcat":[
{"width":175,"height":175,"view":{"stroke":"#777","strokeWidth":2},"encoding":{"x":{"field":"x","type":"quantitative","title":"NO prediction / ppb","scale":{"domain":[0,512],"nice":false},"axis":{"values":[0,200,400]}},"y":{"field":"y","type":"quantitative","title":"NO reduction / ppb","scale":{"domain":[-34,181],"nice":false},"axis":{"values":[0,50,100,150]}}},"layer":[
{"data":{"name":"oi"},"mark":{"type":"circle","size":11,"opacity":1,"color":"#8000ff"}},
{"data":{"name":"di"},"mark":{"type":"circle","opacity":1},"encoding":{"order":{"field":"n"},"size":{"field":"n","type":"quantitative","scale":{"domain":[1,100],"range":[60,100],"clamp":true},"legend":null},"color":{"field":"n","type":"quantitative","scale":{"interpolate":"rgb","domain":[1,233,465,697,930],"range":["#8000ff","#0ea5e8","#80ffb4","#ffb360","#ff0000"]},"legend":{"title":null,"legendX":184,"legendY":43,"gradientLength":88,"gradientThickness":17,"labelFontSize":11.5,"values":[250,500,750],"labelExpr":"'- '+datum.label"}}}},
{"data":{"values":[{"r":"1:1","i":0,"x":0,"y":0},{"r":"1:1","i":1,"x":181,"y":181},{"r":"1:2","i":0,"x":0,"y":0},{"r":"1:2","i":1,"x":362,"y":181},{"r":"1:4","i":0,"x":0,"y":0},{"r":"1:4","i":1,"x":512,"y":128}]},"mark":{"type":"line","stroke":"#111","strokeWidth":1,"strokeDash":[4,2]},"encoding":{"detail":{"field":"r"},"order":{"field":"i"}}},
{"data":{"values":[{"i":0,"x":53,"y":2},{"i":1,"x":126,"y":3},{"i":2,"x":194,"y":13},{"i":3,"x":262,"y":25},{"i":4,"x":330,"y":46},{"i":5,"x":388,"y":66},{"i":6,"x":437,"y":85},{"i":7,"x":475,"y":101},{"i":8,"x":512,"y":117}]},"mark":{"type":"line","stroke":"#ee1122","strokeWidth":3.5,"interpolate":"monotone"},"encoding":{"order":{"field":"i"}}},
{"data":{"values":[{"x":162,"y":165.6,"t":"1:1"},{"x":350,"y":165.6,"t":"1:2"},{"x":471,"y":123,"t":"1:4"}]},"mark":{"type":"text","fontSize":13,"fontWeight":"bold","color":"#111"},"encoding":{"text":{"field":"t"}}},
{"data":{"values":[{"x":50,"y":158.6,"t":"(i)"}]},"mark":{"type":"text","fontSize":25,"fontWeight":"bold","color":"#000"},"encoding":{"text":{"field":"t"}}}
]},
{"width":175,"height":175,"view":{"stroke":"#777","strokeWidth":2},"encoding":{"x":{"field":"x","type":"quantitative","title":"NO₂ prediction / ppb","scale":{"domain":[0,95.8],"nice":false},"axis":{"values":[0,20,40,60,80]}},"y":{"field":"y","type":"quantitative","title":"NO₂ reduction / ppb","scale":{"domain":[-8,48.5],"nice":false},"axis":{"values":[0,10,20,30,40]}}},"layer":[
{"data":{"name":"oj"},"mark":{"type":"circle","size":11,"opacity":1,"color":"#8000ff"}},
{"data":{"name":"dj"},"mark":{"type":"circle","opacity":1},"encoding":{"order":{"field":"n"},"size":{"field":"n","type":"quantitative","scale":{"domain":[1,100],"range":[60,100],"clamp":true},"legend":null},"color":{"field":"n","type":"quantitative","scale":{"interpolate":"rgb","domain":[1,280,560,840,1120],"range":["#8000ff","#0ea5e8","#80ffb4","#ffb360","#ff0000"]},"legend":{"title":null,"legendX":184,"legendY":44,"gradientLength":87,"gradientThickness":17,"labelFontSize":11.5,"values":[500,1000],"format":"d","labelExpr":"'- '+datum.label"}}}},
{"data":{"values":[{"r":"1:1","i":0,"x":0,"y":0},{"r":"1:1","i":1,"x":48.5,"y":48.5},{"r":"1:2","i":0,"x":0,"y":0},{"r":"1:2","i":1,"x":95.8,"y":47.9},{"r":"1:4","i":0,"x":0,"y":0},{"r":"1:4","i":1,"x":95.8,"y":24}]},"mark":{"type":"line","stroke":"#111","strokeWidth":1,"strokeDash":[4,2]},"encoding":{"detail":{"field":"r"},"order":{"field":"i"}}},
{"data":{"values":[{"i":0,"x":6.4,"y":3.3},{"i":1,"x":12.7,"y":2},{"i":2,"x":21.8,"y":0.9},{"i":3,"x":31,"y":0.9},{"i":4,"x":40,"y":2.5},{"i":5,"x":49,"y":5},{"i":6,"x":60,"y":9},{"i":7,"x":71,"y":14.3},{"i":8,"x":80,"y":20.8},{"i":9,"x":89,"y":28.4},{"i":10,"x":94.5,"y":32.7}]},"mark":{"type":"line","stroke":"#ee1122","strokeWidth":3.5,"interpolate":"monotone"},"encoding":{"order":{"field":"i"}}},
{"data":{"values":[{"x":30.4,"y":44.5,"t":"1:1"},{"x":65.5,"y":44.5,"t":"1:2"},{"x":88.2,"y":33.2,"t":"1:4"}]},"mark":{"type":"text","fontSize":13,"fontWeight":"bold","color":"#111"},"encoding":{"text":{"field":"t"}}},
{"data":{"values":[{"x":9.5,"y":42.4,"t":"(j)"}]},"mark":{"type":"text","fontSize":25,"fontWeight":"bold","color":"#000"},"encoding":{"text":{"field":"t"}}}
]}
],"spacing":231,"bounds":"flush","resolve":{"scale":{"color":"independent"},"legend":{"color":"independent"}}}
],"spacing":0,"resolve":{"scale":{"color":"independent"},"legend":{"color":"independent"}}}
],"spacing":19,"resolve":{"scale":{"color":"independent"},"legend":{"color":"independent"}}}
